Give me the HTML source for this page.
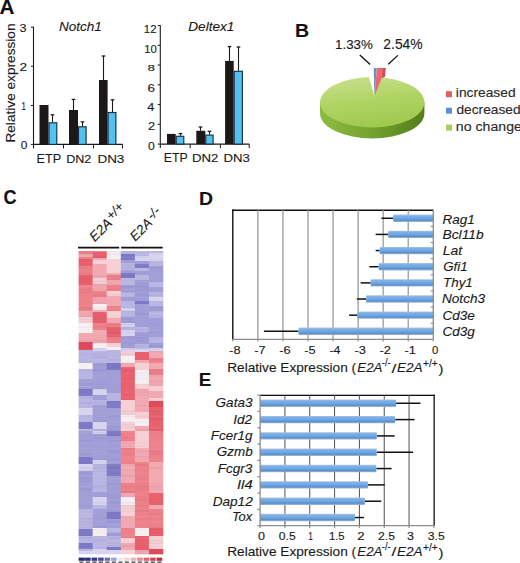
<!DOCTYPE html>
<html><head><meta charset="utf-8"><style>
html,body{margin:0;padding:0;background:#fff;width:520px;height:563px;overflow:hidden}
svg{display:block;font-family:"Liberation Sans", sans-serif}
text{stroke:#1a1a1a;stroke-width:0.12px}
</style></head><body>
<svg width="520" height="563" viewBox="0 0 520 563">
<rect width="520" height="563" fill="#fff"/>
<defs>
<linearGradient id="pietop" x1="0" y1="0" x2="0.3" y2="1">
<stop offset="0" stop-color="#cce293"/><stop offset="0.55" stop-color="#b0d464"/><stop offset="1" stop-color="#a0ca50"/></linearGradient>
<linearGradient id="pieside" x1="0" y1="0" x2="1" y2="0">
<stop offset="0" stop-color="#8cbc40"/><stop offset="0.45" stop-color="#76a630"/><stop offset="1" stop-color="#537e1a"/></linearGradient>
<linearGradient id="hbar" x1="0" y1="0" x2="0" y2="1">
<stop offset="0" stop-color="#b4c4da"/><stop offset="0.2" stop-color="#7cb0e8"/><stop offset="0.5" stop-color="#6ea8e4"/><stop offset="0.78" stop-color="#5a8fcc"/><stop offset="1" stop-color="#a8b8d0"/></linearGradient>
</defs>
<text transform="translate(-0.56,13.60) scale(1.118,1.129)" font-size="18.5" font-weight="bold" fill="#111">A</text>
<text transform="translate(15.2,142.6) rotate(-90) scale(1.035,1)" font-size="13.2" fill="#1a1a1a">Relative expression</text>
<text transform="translate(58.88,30.60) scale(1.043,1.011)" font-size="13" font-style="italic" fill="#1a1a1a">Notch1</text>
<text transform="translate(188.28,30.90) scale(1.045,1.000)" font-size="13" font-style="italic" fill="#1a1a1a">Deltex1</text>
<line x1="33.5" y1="26.7" x2="33.5" y2="148.4" stroke="#1a1a1a" stroke-width="1.1"/>
<line x1="30.9" y1="27.2" x2="33.5" y2="27.2" stroke="#1a1a1a" stroke-width="1"/>
<line x1="30.9" y1="66.2" x2="33.5" y2="66.2" stroke="#1a1a1a" stroke-width="1"/>
<line x1="30.9" y1="105.5" x2="33.5" y2="105.5" stroke="#1a1a1a" stroke-width="1"/>
<line x1="30.9" y1="144.4" x2="33.5" y2="144.4" stroke="#1a1a1a" stroke-width="1"/>
<line x1="33.5" y1="144.4" x2="122.7" y2="144.4" stroke="#1a1a1a" stroke-width="1.1"/>
<line x1="63.5" y1="144.4" x2="63.5" y2="148.4" stroke="#1a1a1a" stroke-width="1"/>
<line x1="93.5" y1="144.4" x2="93.5" y2="148.4" stroke="#1a1a1a" stroke-width="1"/>
<line x1="122.5" y1="144.4" x2="122.5" y2="148.4" stroke="#1a1a1a" stroke-width="1"/>
<rect x="39.5" y="105" width="9.0" height="39.400000000000006" fill="#1c1818"/>
<line x1="52.5" y1="114.8" x2="52.5" y2="122.3" stroke="#1a1a1a" stroke-width="1.1"/>
<line x1="50.7" y1="114.8" x2="54.3" y2="114.8" stroke="#1a1a1a" stroke-width="1.3"/>
<rect x="49.0" y="122.8" width="7.799999999999997" height="21.60000000000001" fill="#52c2f0" stroke="#173048" stroke-width="1.15"/>
<line x1="73.5" y1="99.4" x2="73.5" y2="110" stroke="#1a1a1a" stroke-width="1.1"/>
<line x1="71.7" y1="99.4" x2="75.3" y2="99.4" stroke="#1a1a1a" stroke-width="1.3"/>
<rect x="69" y="110" width="9" height="34.400000000000006" fill="#1c1818"/>
<line x1="82.5" y1="121.9" x2="82.5" y2="126.3" stroke="#1a1a1a" stroke-width="1.1"/>
<line x1="80.7" y1="121.9" x2="84.3" y2="121.9" stroke="#1a1a1a" stroke-width="1.3"/>
<rect x="78.5" y="126.8" width="7.599999999999994" height="17.60000000000001" fill="#52c2f0" stroke="#173048" stroke-width="1.15"/>
<line x1="103.5" y1="56" x2="103.5" y2="80" stroke="#1a1a1a" stroke-width="1.1"/>
<line x1="101.7" y1="56" x2="105.3" y2="56" stroke="#1a1a1a" stroke-width="1.3"/>
<rect x="99" y="80" width="8.599999999999994" height="64.4" fill="#1c1818"/>
<line x1="112.5" y1="99.8" x2="112.5" y2="112" stroke="#1a1a1a" stroke-width="1.1"/>
<line x1="110.7" y1="99.8" x2="114.3" y2="99.8" stroke="#1a1a1a" stroke-width="1.3"/>
<rect x="108.1" y="112.5" width="7.800000000000011" height="31.900000000000006" fill="#52c2f0" stroke="#173048" stroke-width="1.15"/>
<line x1="160.3" y1="25.2" x2="160.3" y2="148.1" stroke="#1a1a1a" stroke-width="1.1"/>
<line x1="157.70000000000002" y1="25.5" x2="160.3" y2="25.5" stroke="#1a1a1a" stroke-width="1"/>
<line x1="157.70000000000002" y1="45.3" x2="160.3" y2="45.3" stroke="#1a1a1a" stroke-width="1"/>
<line x1="157.70000000000002" y1="65.0" x2="160.3" y2="65.0" stroke="#1a1a1a" stroke-width="1"/>
<line x1="157.70000000000002" y1="84.8" x2="160.3" y2="84.8" stroke="#1a1a1a" stroke-width="1"/>
<line x1="157.70000000000002" y1="104.6" x2="160.3" y2="104.6" stroke="#1a1a1a" stroke-width="1"/>
<line x1="157.70000000000002" y1="124.3" x2="160.3" y2="124.3" stroke="#1a1a1a" stroke-width="1"/>
<line x1="157.70000000000002" y1="144.1" x2="160.3" y2="144.1" stroke="#1a1a1a" stroke-width="1"/>
<line x1="160.3" y1="144.1" x2="249.3" y2="144.1" stroke="#1a1a1a" stroke-width="1.1"/>
<line x1="190.2" y1="144.1" x2="190.2" y2="148.1" stroke="#1a1a1a" stroke-width="1"/>
<line x1="220.4" y1="144.1" x2="220.4" y2="148.1" stroke="#1a1a1a" stroke-width="1"/>
<line x1="249.2" y1="144.1" x2="249.2" y2="148.1" stroke="#1a1a1a" stroke-width="1"/>
<rect x="167" y="133.9" width="8.699999999999989" height="10.199999999999989" fill="#1c1818"/>
<line x1="180.5" y1="133.6" x2="180.5" y2="135.8" stroke="#1a1a1a" stroke-width="1.1"/>
<line x1="178.7" y1="133.6" x2="182.3" y2="133.6" stroke="#1a1a1a" stroke-width="1.3"/>
<rect x="176.2" y="136.3" width="7.600000000000023" height="7.799999999999983" fill="#52c2f0" stroke="#173048" stroke-width="1.15"/>
<line x1="200.5" y1="127" x2="200.5" y2="130.8" stroke="#1a1a1a" stroke-width="1.1"/>
<line x1="198.7" y1="127" x2="202.3" y2="127" stroke="#1a1a1a" stroke-width="1.3"/>
<rect x="196.3" y="130.8" width="9.0" height="13.299999999999983" fill="#1c1818"/>
<line x1="209.5" y1="131.3" x2="209.5" y2="134.6" stroke="#1a1a1a" stroke-width="1.1"/>
<line x1="207.7" y1="131.3" x2="211.3" y2="131.3" stroke="#1a1a1a" stroke-width="1.3"/>
<rect x="205.8" y="135.1" width="7.299999999999983" height="9.0" fill="#52c2f0" stroke="#173048" stroke-width="1.15"/>
<line x1="229.5" y1="46.6" x2="229.5" y2="60.9" stroke="#1a1a1a" stroke-width="1.1"/>
<line x1="227.7" y1="46.6" x2="231.3" y2="46.6" stroke="#1a1a1a" stroke-width="1.3"/>
<rect x="225.1" y="60.9" width="8.599999999999994" height="83.19999999999999" fill="#1c1818"/>
<line x1="238.5" y1="47" x2="238.5" y2="70.8" stroke="#1a1a1a" stroke-width="1.1"/>
<line x1="236.7" y1="47" x2="240.3" y2="47" stroke="#1a1a1a" stroke-width="1.3"/>
<rect x="234.2" y="71.3" width="8.200000000000017" height="72.8" fill="#52c2f0" stroke="#173048" stroke-width="1.15"/>
<text transform="translate(19.53,31.77) scale(1.143,0.925)" font-size="11" fill="#1a1a1a">3</text>
<text transform="translate(19.48,70.70) scale(1.240,0.968)" font-size="11" fill="#1a1a1a">2</text>
<text transform="translate(21.46,110.20) scale(0.716,0.987)" font-size="11" fill="#1a1a1a">1</text>
<text transform="translate(20.76,149.30) scale(1.086,0.942)" font-size="11" fill="#1a1a1a">0</text>
<text transform="translate(143.82,32.70) scale(1.036,1.032)" font-size="11" fill="#1a1a1a">12</text>
<text transform="translate(144.23,52.50) scale(1.027,1.032)" font-size="11" fill="#1a1a1a">10</text>
<text transform="translate(147.39,71.38) scale(1.219,0.900)" font-size="11" fill="#1a1a1a">8</text>
<text transform="translate(147.39,91.60) scale(1.219,0.929)" font-size="11" fill="#1a1a1a">6</text>
<text transform="translate(147.31,111.20) scale(1.164,0.960)" font-size="11" fill="#1a1a1a">4</text>
<text transform="translate(147.92,130.30) scale(1.160,0.994)" font-size="11" fill="#1a1a1a">2</text>
<text transform="translate(147.95,149.50) scale(1.105,1.019)" font-size="11" fill="#1a1a1a">0</text>
<text transform="translate(36.48,163.30) scale(1.015,0.953)" font-size="12.5" fill="#1a1a1a">ETP</text>
<text transform="translate(66.20,163.30) scale(1.004,0.926)" font-size="12.5" fill="#1a1a1a">DN2</text>
<text transform="translate(97.42,163.30) scale(1.077,0.926)" font-size="12.5" fill="#1a1a1a">DN3</text>
<text transform="translate(163.82,162.40) scale(0.985,0.965)" font-size="12.5" fill="#1a1a1a">ETP</text>
<text transform="translate(192.04,162.40) scale(1.055,0.937)" font-size="12.5" fill="#1a1a1a">DN2</text>
<text transform="translate(223.54,162.40) scale(1.055,0.937)" font-size="12.5" fill="#1a1a1a">DN3</text>
<text transform="translate(294.98,37.10) scale(1.058,1.027)" font-size="18.5" font-weight="bold" fill="#111">B</text>
<text transform="translate(335.01,49.40) scale(0.988,1.011)" font-size="13.5" fill="#1a1a1a">1.33%</text>
<text transform="translate(383.33,49.40) scale(1.027,1.042)" font-size="13.5" fill="#1a1a1a">2.54%</text>
<line x1="359.8" y1="55" x2="370.2" y2="64.5" stroke="#111" stroke-width="1.3"/>
<line x1="388.3" y1="64.3" x2="397.8" y2="55.4" stroke="#111" stroke-width="1.3"/>
<path d="M320.0,102.3 L320.0,113.3 A52.2,25.2 0 0 0 424.4,113.3 L424.4,102.3 Z" fill="url(#pieside)"/>
<ellipse cx="372.2" cy="102.3" rx="52.2" ry="25.2" fill="url(#pietop)"/>
<path d="M374.3,96.2 L368.8,76.3 L374.2,76.3 Z" fill="#fff"/>
<path d="M374.4,95.8 L373.7,68 L376.7,68 Z" fill="#6292d4"/>
<path d="M374.9,95.4 L376.7,68 L385.7,68 Z" fill="#ee6670"/>
<path d="M383.2,68 L385.7,68 L385.0,76.8 L381.9,78.2 Z" fill="#c94c56"/>
<rect x="446" y="91.2" width="6" height="6" fill="#e06060"/>
<rect x="446" y="107.7" width="6" height="6" fill="#5c90d6"/>
<rect x="446" y="124.6" width="6" height="6" fill="#a8cf5c"/>
<text transform="translate(455.87,97.40) scale(1.028,0.923)" font-size="13.4" fill="#2a2a2a">increased</text>
<text transform="translate(456.39,113.50) scale(1.027,0.923)" font-size="13.4" fill="#2a2a2a">decreased</text>
<text transform="translate(455.84,130.67) scale(1.056,0.992)" font-size="13.4" fill="#2a2a2a">no change</text>
<text transform="translate(3.46,204.14) scale(0.983,1.057)" font-size="18.5" font-weight="bold" fill="#111">C</text>
<line x1="78" y1="247.6" x2="119.2" y2="247.6" stroke="#111" stroke-width="1.6"/>
<line x1="121.2" y1="247.6" x2="162.7" y2="247.6" stroke="#111" stroke-width="1.6"/>
<text transform="translate(94.8,242.2) rotate(-45)" font-size="13.6" font-style="italic" fill="#1a1a1a">E2A<tspan font-size="13" dy="-3.6" dx="1.0">+/+</tspan></text>
<text transform="translate(135.2,241.7) rotate(-45)" font-size="13.4" font-style="italic" fill="#1a1a1a">E2A<tspan font-size="13" dy="-3.0" dx="1.5">-/-</tspan></text>
<rect x="78.60" y="251" width="14.37" height="3.3" fill="#ed8089"/>
<rect x="78.60" y="254" width="14.37" height="3.3" fill="#f2a8b0"/>
<rect x="78.60" y="257" width="14.37" height="2.3" fill="#ed8089"/>
<rect x="78.60" y="259" width="14.37" height="7.3" fill="#e8606c"/>
<rect x="78.60" y="266" width="14.37" height="9.3" fill="#ed8089"/>
<rect x="78.60" y="275" width="14.37" height="10.3" fill="#e8606c"/>
<rect x="78.60" y="285" width="14.37" height="19.3" fill="#ed8089"/>
<rect x="78.60" y="304" width="14.37" height="7.3" fill="#ed8089"/>
<rect x="78.60" y="311" width="14.37" height="6.3" fill="#f2a8b0"/>
<rect x="78.60" y="317" width="14.37" height="6.3" fill="#f6d0d4"/>
<rect x="78.60" y="323" width="14.37" height="10.3" fill="#f7f0f3"/>
<rect x="78.60" y="333" width="14.37" height="9.3" fill="#f2a8b0"/>
<rect x="78.60" y="342" width="14.37" height="8.3" fill="#e24a5a"/>
<rect x="78.60" y="350" width="14.37" height="13.3" fill="#b8b5e2"/>
<rect x="78.60" y="363" width="14.37" height="6.3" fill="#f7f0f3"/>
<rect x="78.60" y="369" width="14.37" height="10.3" fill="#b8b5e2"/>
<rect x="78.60" y="379" width="14.37" height="10.3" fill="#a09dd7"/>
<rect x="78.60" y="389" width="14.37" height="7.3" fill="#7d79c4"/>
<rect x="78.60" y="396" width="14.37" height="12.3" fill="#b8b5e2"/>
<rect x="78.60" y="408" width="14.37" height="7.3" fill="#d6d4ef"/>
<rect x="78.60" y="415" width="14.37" height="7.3" fill="#b8b5e2"/>
<rect x="78.60" y="422" width="14.37" height="7.3" fill="#7d79c4"/>
<rect x="78.60" y="429" width="14.37" height="2.3" fill="#b8b5e2"/>
<rect x="78.60" y="431" width="14.37" height="26.3" fill="#a09dd7"/>
<rect x="78.60" y="457" width="14.37" height="7.3" fill="#7d79c4"/>
<rect x="78.60" y="464" width="14.37" height="7.3" fill="#d6d4ef"/>
<rect x="78.60" y="471" width="14.37" height="38.3" fill="#a09dd7"/>
<rect x="78.60" y="509" width="14.37" height="20.3" fill="#b8b5e2"/>
<rect x="78.60" y="529" width="14.37" height="7.3" fill="#7d79c4"/>
<rect x="78.60" y="536" width="14.37" height="7.3" fill="#b8b5e2"/>
<rect x="78.60" y="543" width="14.37" height="6.3" fill="#7d79c4"/>
<rect x="78.60" y="549" width="14.37" height="2.3" fill="#b8b5e2"/>
<rect x="78.60" y="551" width="14.37" height="3.3" fill="#d6d4ef"/>
<rect x="92.67" y="251" width="14.37" height="1.3" fill="#ed8089"/>
<rect x="92.67" y="252" width="14.37" height="6.3" fill="#e8606c"/>
<rect x="92.67" y="258" width="14.37" height="2.3" fill="#f2a8b0"/>
<rect x="92.67" y="260" width="14.37" height="4.3" fill="#f6d0d4"/>
<rect x="92.67" y="264" width="14.37" height="14.3" fill="#f2a8b0"/>
<rect x="92.67" y="278" width="14.37" height="6.3" fill="#f6d0d4"/>
<rect x="92.67" y="284" width="14.37" height="7.3" fill="#f2a8b0"/>
<rect x="92.67" y="291" width="14.37" height="6.3" fill="#ed8089"/>
<rect x="92.67" y="297" width="14.37" height="7.3" fill="#f2a8b0"/>
<rect x="92.67" y="304" width="14.37" height="6.3" fill="#f7f0f3"/>
<rect x="92.67" y="310" width="14.37" height="2.3" fill="#f2a8b0"/>
<rect x="92.67" y="312" width="14.37" height="11.3" fill="#e8606c"/>
<rect x="92.67" y="323" width="14.37" height="7.3" fill="#ed8089"/>
<rect x="92.67" y="330" width="14.37" height="13.3" fill="#f2a8b0"/>
<rect x="92.67" y="343" width="14.37" height="5.3" fill="#f7f0f3"/>
<rect x="92.67" y="348" width="14.37" height="3.3" fill="#d6d4ef"/>
<rect x="92.67" y="351" width="14.37" height="12.3" fill="#b8b5e2"/>
<rect x="92.67" y="363" width="14.37" height="23.3" fill="#a09dd7"/>
<rect x="92.67" y="386" width="14.37" height="3.3" fill="#a09dd7"/>
<rect x="92.67" y="389" width="14.37" height="6.3" fill="#d6d4ef"/>
<rect x="92.67" y="395" width="14.37" height="5.3" fill="#a09dd7"/>
<rect x="92.67" y="400" width="14.37" height="5.3" fill="#b8b5e2"/>
<rect x="92.67" y="405" width="14.37" height="17.3" fill="#a09dd7"/>
<rect x="92.67" y="422" width="14.37" height="7.3" fill="#d6d4ef"/>
<rect x="92.67" y="429" width="14.37" height="2.3" fill="#b8b5e2"/>
<rect x="92.67" y="431" width="14.37" height="3.3" fill="#d6d4ef"/>
<rect x="92.67" y="434" width="14.37" height="26.3" fill="#a09dd7"/>
<rect x="92.67" y="460" width="14.37" height="4.3" fill="#d6d4ef"/>
<rect x="92.67" y="464" width="14.37" height="28.3" fill="#b8b5e2"/>
<rect x="92.67" y="492" width="14.37" height="5.3" fill="#a09dd7"/>
<rect x="92.67" y="497" width="14.37" height="8.3" fill="#d6d4ef"/>
<rect x="92.67" y="505" width="14.37" height="4.3" fill="#b8b5e2"/>
<rect x="92.67" y="509" width="14.37" height="19.3" fill="#a09dd7"/>
<rect x="92.67" y="528" width="14.37" height="8.3" fill="#f7f0f3"/>
<rect x="92.67" y="536" width="14.37" height="13.3" fill="#b8b5e2"/>
<rect x="92.67" y="549" width="14.37" height="5.3" fill="#d6d4ef"/>
<rect x="106.74" y="251" width="14.37" height="8.3" fill="#f7f0f3"/>
<rect x="106.74" y="259" width="14.37" height="14.3" fill="#f6d0d4"/>
<rect x="106.74" y="273" width="14.37" height="2.3" fill="#f2a8b0"/>
<rect x="106.74" y="275" width="14.37" height="5.3" fill="#ed8089"/>
<rect x="106.74" y="280" width="14.37" height="5.3" fill="#f2a8b0"/>
<rect x="106.74" y="285" width="14.37" height="6.3" fill="#ed8089"/>
<rect x="106.74" y="291" width="14.37" height="5.3" fill="#f6d0d4"/>
<rect x="106.74" y="296" width="14.37" height="10.3" fill="#f2a8b0"/>
<rect x="106.74" y="306" width="14.37" height="5.3" fill="#ed8089"/>
<rect x="106.74" y="311" width="14.37" height="7.3" fill="#f6d0d4"/>
<rect x="106.74" y="318" width="14.37" height="5.3" fill="#f2a8b0"/>
<rect x="106.74" y="323" width="14.37" height="4.3" fill="#ed8089"/>
<rect x="106.74" y="327" width="14.37" height="10.3" fill="#e8606c"/>
<rect x="106.74" y="337" width="14.37" height="6.3" fill="#ed8089"/>
<rect x="106.74" y="343" width="14.37" height="4.3" fill="#f6d0d4"/>
<rect x="106.74" y="347" width="14.37" height="3.3" fill="#f7f0f3"/>
<rect x="106.74" y="350" width="14.37" height="13.3" fill="#b8b5e2"/>
<rect x="106.74" y="363" width="14.37" height="7.3" fill="#7d79c4"/>
<rect x="106.74" y="370" width="14.37" height="23.3" fill="#a09dd7"/>
<rect x="106.74" y="393" width="14.37" height="8.3" fill="#b8b5e2"/>
<rect x="106.74" y="401" width="14.37" height="7.3" fill="#7d79c4"/>
<rect x="106.74" y="408" width="14.37" height="23.3" fill="#a09dd7"/>
<rect x="106.74" y="431" width="14.37" height="5.3" fill="#7d79c4"/>
<rect x="106.74" y="436" width="14.37" height="28.3" fill="#a09dd7"/>
<rect x="106.74" y="464" width="14.37" height="12.3" fill="#7d79c4"/>
<rect x="106.74" y="476" width="14.37" height="36.3" fill="#a09dd7"/>
<rect x="106.74" y="512" width="14.37" height="7.3" fill="#7d79c4"/>
<rect x="106.74" y="519" width="14.37" height="9.3" fill="#a09dd7"/>
<rect x="106.74" y="528" width="14.37" height="5.3" fill="#b8b5e2"/>
<rect x="106.74" y="533" width="14.37" height="3.3" fill="#a09dd7"/>
<rect x="106.74" y="536" width="14.37" height="11.3" fill="#b8b5e2"/>
<rect x="106.74" y="547" width="14.37" height="3.3" fill="#7d79c4"/>
<rect x="106.74" y="550" width="14.37" height="4.3" fill="#d6d4ef"/>
<rect x="120.81" y="251" width="14.37" height="3.3" fill="#b8b5e2"/>
<rect x="120.81" y="254" width="14.37" height="6.3" fill="#7d79c4"/>
<rect x="120.81" y="260" width="14.37" height="3.3" fill="#a09dd7"/>
<rect x="120.81" y="263" width="14.37" height="7.3" fill="#b8b5e2"/>
<rect x="120.81" y="270" width="14.37" height="3.3" fill="#a09dd7"/>
<rect x="120.81" y="273" width="14.37" height="5.3" fill="#7d79c4"/>
<rect x="120.81" y="278" width="14.37" height="7.3" fill="#b8b5e2"/>
<rect x="120.81" y="285" width="14.37" height="7.3" fill="#a09dd7"/>
<rect x="120.81" y="292" width="14.37" height="5.3" fill="#b8b5e2"/>
<rect x="120.81" y="297" width="14.37" height="4.3" fill="#a09dd7"/>
<rect x="120.81" y="301" width="14.37" height="7.3" fill="#b8b5e2"/>
<rect x="120.81" y="308" width="14.37" height="3.3" fill="#d6d4ef"/>
<rect x="120.81" y="311" width="14.37" height="6.3" fill="#b8b5e2"/>
<rect x="120.81" y="317" width="14.37" height="6.3" fill="#a09dd7"/>
<rect x="120.81" y="323" width="14.37" height="4.3" fill="#d6d4ef"/>
<rect x="120.81" y="327" width="14.37" height="3.3" fill="#b8b5e2"/>
<rect x="120.81" y="330" width="14.37" height="6.3" fill="#d6d4ef"/>
<rect x="120.81" y="336" width="14.37" height="12.3" fill="#a09dd7"/>
<rect x="120.81" y="348" width="14.37" height="3.3" fill="#d6d4ef"/>
<rect x="120.81" y="351" width="14.37" height="5.3" fill="#f6d0d4"/>
<rect x="120.81" y="356" width="14.37" height="7.3" fill="#f7f0f3"/>
<rect x="120.81" y="363" width="14.37" height="4.3" fill="#f2a8b0"/>
<rect x="120.81" y="367" width="14.37" height="33.3" fill="#e8606c"/>
<rect x="120.81" y="400" width="14.37" height="15.3" fill="#f6d0d4"/>
<rect x="120.81" y="415" width="14.37" height="7.3" fill="#f7f0f3"/>
<rect x="120.81" y="422" width="14.37" height="9.3" fill="#f6d0d4"/>
<rect x="120.81" y="431" width="14.37" height="10.3" fill="#ed8089"/>
<rect x="120.81" y="441" width="14.37" height="7.3" fill="#f2a8b0"/>
<rect x="120.81" y="448" width="14.37" height="16.3" fill="#ed8089"/>
<rect x="120.81" y="464" width="14.37" height="19.3" fill="#f2a8b0"/>
<rect x="120.81" y="483" width="14.37" height="10.3" fill="#ed8089"/>
<rect x="120.81" y="493" width="14.37" height="4.3" fill="#f2a8b0"/>
<rect x="120.81" y="497" width="14.37" height="8.3" fill="#f7f0f3"/>
<rect x="120.81" y="505" width="14.37" height="11.3" fill="#f6d0d4"/>
<rect x="120.81" y="516" width="14.37" height="12.3" fill="#f2a8b0"/>
<rect x="120.81" y="528" width="14.37" height="10.3" fill="#ed8089"/>
<rect x="120.81" y="538" width="14.37" height="5.3" fill="#f6d0d4"/>
<rect x="120.81" y="543" width="14.37" height="7.3" fill="#f2a8b0"/>
<rect x="120.81" y="550" width="14.37" height="4.3" fill="#f6d0d4"/>
<rect x="134.88" y="251" width="14.37" height="5.3" fill="#b8b5e2"/>
<rect x="134.88" y="256" width="14.37" height="5.3" fill="#d6d4ef"/>
<rect x="134.88" y="261" width="14.37" height="3.3" fill="#a09dd7"/>
<rect x="134.88" y="264" width="14.37" height="4.3" fill="#7d79c4"/>
<rect x="134.88" y="268" width="14.37" height="3.3" fill="#b8b5e2"/>
<rect x="134.88" y="271" width="14.37" height="4.3" fill="#a09dd7"/>
<rect x="134.88" y="275" width="14.37" height="5.3" fill="#b8b5e2"/>
<rect x="134.88" y="280" width="14.37" height="21.3" fill="#a09dd7"/>
<rect x="134.88" y="301" width="14.37" height="3.3" fill="#7d79c4"/>
<rect x="134.88" y="304" width="14.37" height="23.3" fill="#a09dd7"/>
<rect x="134.88" y="327" width="14.37" height="5.3" fill="#b8b5e2"/>
<rect x="134.88" y="332" width="14.37" height="12.3" fill="#a09dd7"/>
<rect x="134.88" y="344" width="14.37" height="5.3" fill="#b8b5e2"/>
<rect x="134.88" y="349" width="14.37" height="3.3" fill="#d6d4ef"/>
<rect x="134.88" y="352" width="14.37" height="8.3" fill="#e8606c"/>
<rect x="134.88" y="360" width="14.37" height="3.3" fill="#f2a8b0"/>
<rect x="134.88" y="363" width="14.37" height="7.3" fill="#f6d0d4"/>
<rect x="134.88" y="370" width="14.37" height="14.3" fill="#f7f0f3"/>
<rect x="134.88" y="384" width="14.37" height="5.3" fill="#f6d0d4"/>
<rect x="134.88" y="389" width="14.37" height="16.3" fill="#f2a8b0"/>
<rect x="134.88" y="405" width="14.37" height="7.3" fill="#f2a8b0"/>
<rect x="134.88" y="412" width="14.37" height="7.3" fill="#f6d0d4"/>
<rect x="134.88" y="419" width="14.37" height="7.3" fill="#f7f0f3"/>
<rect x="134.88" y="426" width="14.37" height="5.3" fill="#f2a8b0"/>
<rect x="134.88" y="431" width="14.37" height="17.3" fill="#f6d0d4"/>
<rect x="134.88" y="448" width="14.37" height="9.3" fill="#f2a8b0"/>
<rect x="134.88" y="457" width="14.37" height="5.3" fill="#f2a8b0"/>
<rect x="134.88" y="462" width="14.37" height="66.3" fill="#ed8089"/>
<rect x="134.88" y="528" width="14.37" height="8.3" fill="#f7f0f3"/>
<rect x="134.88" y="536" width="14.37" height="14.3" fill="#e8606c"/>
<rect x="134.88" y="550" width="14.37" height="4.3" fill="#f2a8b0"/>
<rect x="148.95" y="251" width="14.37" height="2.3" fill="#b8b5e2"/>
<rect x="148.95" y="253" width="14.37" height="8.3" fill="#d6d4ef"/>
<rect x="148.95" y="261" width="14.37" height="5.3" fill="#b8b5e2"/>
<rect x="148.95" y="266" width="14.37" height="16.3" fill="#a09dd7"/>
<rect x="148.95" y="282" width="14.37" height="5.3" fill="#b8b5e2"/>
<rect x="148.95" y="287" width="14.37" height="5.3" fill="#a09dd7"/>
<rect x="148.95" y="292" width="14.37" height="5.3" fill="#b8b5e2"/>
<rect x="148.95" y="297" width="14.37" height="4.3" fill="#d6d4ef"/>
<rect x="148.95" y="301" width="14.37" height="5.3" fill="#b8b5e2"/>
<rect x="148.95" y="306" width="14.37" height="5.3" fill="#a09dd7"/>
<rect x="148.95" y="311" width="14.37" height="7.3" fill="#b8b5e2"/>
<rect x="148.95" y="318" width="14.37" height="19.3" fill="#a09dd7"/>
<rect x="148.95" y="337" width="14.37" height="6.3" fill="#b8b5e2"/>
<rect x="148.95" y="343" width="14.37" height="5.3" fill="#a09dd7"/>
<rect x="148.95" y="348" width="14.37" height="3.3" fill="#d6d4ef"/>
<rect x="148.95" y="351" width="14.37" height="7.3" fill="#f2a8b0"/>
<rect x="148.95" y="358" width="14.37" height="5.3" fill="#ed8089"/>
<rect x="148.95" y="363" width="14.37" height="6.3" fill="#f2a8b0"/>
<rect x="148.95" y="369" width="14.37" height="6.3" fill="#ed8089"/>
<rect x="148.95" y="375" width="14.37" height="11.3" fill="#f2a8b0"/>
<rect x="148.95" y="386" width="14.37" height="5.3" fill="#f6d0d4"/>
<rect x="148.95" y="391" width="14.37" height="7.3" fill="#f2a8b0"/>
<rect x="148.95" y="398" width="14.37" height="3.3" fill="#f6d0d4"/>
<rect x="148.95" y="401" width="14.37" height="6.3" fill="#e24a5a"/>
<rect x="148.95" y="407" width="14.37" height="24.3" fill="#e8606c"/>
<rect x="148.95" y="431" width="14.37" height="31.3" fill="#ed8089"/>
<rect x="148.95" y="462" width="14.37" height="31.3" fill="#f2a8b0"/>
<rect x="148.95" y="493" width="14.37" height="12.3" fill="#e8606c"/>
<rect x="148.95" y="505" width="14.37" height="4.3" fill="#f2a8b0"/>
<rect x="148.95" y="509" width="14.37" height="19.3" fill="#ed8089"/>
<rect x="148.95" y="528" width="14.37" height="8.3" fill="#e8606c"/>
<rect x="148.95" y="536" width="14.37" height="13.3" fill="#f6d0d4"/>
<rect x="148.95" y="549" width="14.37" height="5.3" fill="#e24a5a"/>
<rect x="78.60" y="251.00" width="14.07" height="1.4" fill="#303060" fill-opacity="0.025"/>
<rect x="78.60" y="253.70" width="14.07" height="1.4" fill="#303060" fill-opacity="0.049"/>
<rect x="78.60" y="259.10" width="14.07" height="1.4" fill="#303060" fill-opacity="0.060"/>
<rect x="78.60" y="267.20" width="14.07" height="1.4" fill="#303060" fill-opacity="0.062"/>
<rect x="78.60" y="272.60" width="14.07" height="1.4" fill="#303060" fill-opacity="0.065"/>
<rect x="78.60" y="278.00" width="14.07" height="1.4" fill="#303060" fill-opacity="0.060"/>
<rect x="78.60" y="280.70" width="14.07" height="1.4" fill="#303060" fill-opacity="0.057"/>
<rect x="78.60" y="286.10" width="14.07" height="1.4" fill="#ffffff" fill-opacity="0.046"/>
<rect x="78.60" y="288.80" width="14.07" height="1.4" fill="#303060" fill-opacity="0.053"/>
<rect x="78.60" y="291.50" width="14.07" height="1.4" fill="#303060" fill-opacity="0.039"/>
<rect x="78.60" y="296.90" width="14.07" height="1.4" fill="#ffffff" fill-opacity="0.063"/>
<rect x="78.60" y="305.00" width="14.07" height="1.4" fill="#ffffff" fill-opacity="0.067"/>
<rect x="78.60" y="307.70" width="14.07" height="1.4" fill="#303060" fill-opacity="0.063"/>
<rect x="78.60" y="310.40" width="14.07" height="1.4" fill="#ffffff" fill-opacity="0.050"/>
<rect x="78.60" y="313.10" width="14.07" height="1.4" fill="#303060" fill-opacity="0.029"/>
<rect x="78.60" y="315.80" width="14.07" height="1.4" fill="#303060" fill-opacity="0.050"/>
<rect x="78.60" y="318.50" width="14.07" height="1.4" fill="#303060" fill-opacity="0.054"/>
<rect x="78.60" y="321.20" width="14.07" height="1.4" fill="#303060" fill-opacity="0.027"/>
<rect x="78.60" y="323.90" width="14.07" height="1.4" fill="#ffffff" fill-opacity="0.044"/>
<rect x="78.60" y="326.60" width="14.07" height="1.4" fill="#303060" fill-opacity="0.045"/>
<rect x="78.60" y="340.10" width="14.07" height="1.4" fill="#303060" fill-opacity="0.061"/>
<rect x="78.60" y="342.80" width="14.07" height="1.4" fill="#303060" fill-opacity="0.062"/>
<rect x="78.60" y="345.50" width="14.07" height="1.4" fill="#303060" fill-opacity="0.041"/>
<rect x="78.60" y="348.20" width="14.07" height="1.4" fill="#ffffff" fill-opacity="0.025"/>
<rect x="78.60" y="353.60" width="14.07" height="1.4" fill="#303060" fill-opacity="0.026"/>
<rect x="78.60" y="361.70" width="14.07" height="1.4" fill="#303060" fill-opacity="0.028"/>
<rect x="78.60" y="364.40" width="14.07" height="1.4" fill="#ffffff" fill-opacity="0.041"/>
<rect x="78.60" y="367.10" width="14.07" height="1.4" fill="#ffffff" fill-opacity="0.028"/>
<rect x="78.60" y="369.80" width="14.07" height="1.4" fill="#303060" fill-opacity="0.036"/>
<rect x="78.60" y="377.90" width="14.07" height="1.4" fill="#ffffff" fill-opacity="0.053"/>
<rect x="78.60" y="380.60" width="14.07" height="1.4" fill="#ffffff" fill-opacity="0.032"/>
<rect x="78.60" y="383.30" width="14.07" height="1.4" fill="#303060" fill-opacity="0.030"/>
<rect x="78.60" y="386.00" width="14.07" height="1.4" fill="#ffffff" fill-opacity="0.067"/>
<rect x="78.60" y="388.70" width="14.07" height="1.4" fill="#303060" fill-opacity="0.053"/>
<rect x="78.60" y="394.10" width="14.07" height="1.4" fill="#ffffff" fill-opacity="0.036"/>
<rect x="78.60" y="396.80" width="14.07" height="1.4" fill="#303060" fill-opacity="0.049"/>
<rect x="78.60" y="402.20" width="14.07" height="1.4" fill="#303060" fill-opacity="0.065"/>
<rect x="78.60" y="407.60" width="14.07" height="1.4" fill="#ffffff" fill-opacity="0.037"/>
<rect x="78.60" y="413.00" width="14.07" height="1.4" fill="#ffffff" fill-opacity="0.053"/>
<rect x="78.60" y="415.70" width="14.07" height="1.4" fill="#303060" fill-opacity="0.026"/>
<rect x="78.60" y="418.40" width="14.07" height="1.4" fill="#ffffff" fill-opacity="0.027"/>
<rect x="78.60" y="429.20" width="14.07" height="1.4" fill="#ffffff" fill-opacity="0.048"/>
<rect x="78.60" y="431.90" width="14.07" height="1.4" fill="#ffffff" fill-opacity="0.062"/>
<rect x="78.60" y="440.00" width="14.07" height="1.4" fill="#303060" fill-opacity="0.062"/>
<rect x="78.60" y="442.70" width="14.07" height="1.4" fill="#ffffff" fill-opacity="0.028"/>
<rect x="78.60" y="448.10" width="14.07" height="1.4" fill="#ffffff" fill-opacity="0.069"/>
<rect x="78.60" y="450.80" width="14.07" height="1.4" fill="#ffffff" fill-opacity="0.045"/>
<rect x="78.60" y="453.50" width="14.07" height="1.4" fill="#303060" fill-opacity="0.030"/>
<rect x="78.60" y="461.60" width="14.07" height="1.4" fill="#303060" fill-opacity="0.067"/>
<rect x="78.60" y="467.00" width="14.07" height="1.4" fill="#303060" fill-opacity="0.046"/>
<rect x="78.60" y="469.70" width="14.07" height="1.4" fill="#303060" fill-opacity="0.054"/>
<rect x="78.60" y="472.40" width="14.07" height="1.4" fill="#303060" fill-opacity="0.062"/>
<rect x="78.60" y="475.10" width="14.07" height="1.4" fill="#ffffff" fill-opacity="0.038"/>
<rect x="78.60" y="477.80" width="14.07" height="1.4" fill="#303060" fill-opacity="0.052"/>
<rect x="78.60" y="480.50" width="14.07" height="1.4" fill="#303060" fill-opacity="0.035"/>
<rect x="78.60" y="485.90" width="14.07" height="1.4" fill="#ffffff" fill-opacity="0.052"/>
<rect x="78.60" y="488.60" width="14.07" height="1.4" fill="#303060" fill-opacity="0.059"/>
<rect x="78.60" y="496.70" width="14.07" height="1.4" fill="#ffffff" fill-opacity="0.054"/>
<rect x="78.60" y="499.40" width="14.07" height="1.4" fill="#ffffff" fill-opacity="0.045"/>
<rect x="78.60" y="502.10" width="14.07" height="1.4" fill="#ffffff" fill-opacity="0.051"/>
<rect x="78.60" y="504.80" width="14.07" height="1.4" fill="#303060" fill-opacity="0.031"/>
<rect x="78.60" y="512.90" width="14.07" height="1.4" fill="#ffffff" fill-opacity="0.054"/>
<rect x="78.60" y="515.60" width="14.07" height="1.4" fill="#ffffff" fill-opacity="0.064"/>
<rect x="78.60" y="518.30" width="14.07" height="1.4" fill="#303060" fill-opacity="0.049"/>
<rect x="78.60" y="521.00" width="14.07" height="1.4" fill="#303060" fill-opacity="0.045"/>
<rect x="78.60" y="523.70" width="14.07" height="1.4" fill="#303060" fill-opacity="0.038"/>
<rect x="78.60" y="526.40" width="14.07" height="1.4" fill="#303060" fill-opacity="0.037"/>
<rect x="78.60" y="534.50" width="14.07" height="1.4" fill="#303060" fill-opacity="0.033"/>
<rect x="78.60" y="537.20" width="14.07" height="1.4" fill="#303060" fill-opacity="0.069"/>
<rect x="78.60" y="548.00" width="14.07" height="1.4" fill="#ffffff" fill-opacity="0.063"/>
<rect x="78.60" y="550.70" width="14.07" height="1.4" fill="#ffffff" fill-opacity="0.027"/>
<rect x="92.67" y="253.70" width="14.07" height="1.4" fill="#ffffff" fill-opacity="0.025"/>
<rect x="92.67" y="256.40" width="14.07" height="1.4" fill="#303060" fill-opacity="0.062"/>
<rect x="92.67" y="259.10" width="14.07" height="1.4" fill="#ffffff" fill-opacity="0.056"/>
<rect x="92.67" y="261.80" width="14.07" height="1.4" fill="#ffffff" fill-opacity="0.039"/>
<rect x="92.67" y="264.50" width="14.07" height="1.4" fill="#ffffff" fill-opacity="0.052"/>
<rect x="92.67" y="267.20" width="14.07" height="1.4" fill="#ffffff" fill-opacity="0.042"/>
<rect x="92.67" y="275.30" width="14.07" height="1.4" fill="#303060" fill-opacity="0.056"/>
<rect x="92.67" y="280.70" width="14.07" height="1.4" fill="#303060" fill-opacity="0.061"/>
<rect x="92.67" y="283.40" width="14.07" height="1.4" fill="#303060" fill-opacity="0.061"/>
<rect x="92.67" y="286.10" width="14.07" height="1.4" fill="#303060" fill-opacity="0.041"/>
<rect x="92.67" y="288.80" width="14.07" height="1.4" fill="#303060" fill-opacity="0.047"/>
<rect x="92.67" y="294.20" width="14.07" height="1.4" fill="#303060" fill-opacity="0.063"/>
<rect x="92.67" y="296.90" width="14.07" height="1.4" fill="#303060" fill-opacity="0.070"/>
<rect x="92.67" y="299.60" width="14.07" height="1.4" fill="#303060" fill-opacity="0.049"/>
<rect x="92.67" y="302.30" width="14.07" height="1.4" fill="#303060" fill-opacity="0.056"/>
<rect x="92.67" y="307.70" width="14.07" height="1.4" fill="#303060" fill-opacity="0.066"/>
<rect x="92.67" y="310.40" width="14.07" height="1.4" fill="#ffffff" fill-opacity="0.052"/>
<rect x="92.67" y="315.80" width="14.07" height="1.4" fill="#303060" fill-opacity="0.049"/>
<rect x="92.67" y="318.50" width="14.07" height="1.4" fill="#303060" fill-opacity="0.035"/>
<rect x="92.67" y="326.60" width="14.07" height="1.4" fill="#303060" fill-opacity="0.053"/>
<rect x="92.67" y="329.30" width="14.07" height="1.4" fill="#ffffff" fill-opacity="0.049"/>
<rect x="92.67" y="332.00" width="14.07" height="1.4" fill="#ffffff" fill-opacity="0.069"/>
<rect x="92.67" y="340.10" width="14.07" height="1.4" fill="#303060" fill-opacity="0.058"/>
<rect x="92.67" y="342.80" width="14.07" height="1.4" fill="#303060" fill-opacity="0.056"/>
<rect x="92.67" y="348.20" width="14.07" height="1.4" fill="#303060" fill-opacity="0.033"/>
<rect x="92.67" y="350.90" width="14.07" height="1.4" fill="#ffffff" fill-opacity="0.046"/>
<rect x="92.67" y="353.60" width="14.07" height="1.4" fill="#303060" fill-opacity="0.047"/>
<rect x="92.67" y="356.30" width="14.07" height="1.4" fill="#303060" fill-opacity="0.067"/>
<rect x="92.67" y="359.00" width="14.07" height="1.4" fill="#ffffff" fill-opacity="0.063"/>
<rect x="92.67" y="364.40" width="14.07" height="1.4" fill="#303060" fill-opacity="0.049"/>
<rect x="92.67" y="369.80" width="14.07" height="1.4" fill="#303060" fill-opacity="0.066"/>
<rect x="92.67" y="375.20" width="14.07" height="1.4" fill="#ffffff" fill-opacity="0.067"/>
<rect x="92.67" y="377.90" width="14.07" height="1.4" fill="#ffffff" fill-opacity="0.051"/>
<rect x="92.67" y="380.60" width="14.07" height="1.4" fill="#ffffff" fill-opacity="0.027"/>
<rect x="92.67" y="383.30" width="14.07" height="1.4" fill="#303060" fill-opacity="0.033"/>
<rect x="92.67" y="388.70" width="14.07" height="1.4" fill="#303060" fill-opacity="0.047"/>
<rect x="92.67" y="391.40" width="14.07" height="1.4" fill="#ffffff" fill-opacity="0.038"/>
<rect x="92.67" y="396.80" width="14.07" height="1.4" fill="#ffffff" fill-opacity="0.039"/>
<rect x="92.67" y="402.20" width="14.07" height="1.4" fill="#303060" fill-opacity="0.039"/>
<rect x="92.67" y="404.90" width="14.07" height="1.4" fill="#ffffff" fill-opacity="0.044"/>
<rect x="92.67" y="407.60" width="14.07" height="1.4" fill="#ffffff" fill-opacity="0.068"/>
<rect x="92.67" y="410.30" width="14.07" height="1.4" fill="#ffffff" fill-opacity="0.049"/>
<rect x="92.67" y="413.00" width="14.07" height="1.4" fill="#ffffff" fill-opacity="0.043"/>
<rect x="92.67" y="415.70" width="14.07" height="1.4" fill="#ffffff" fill-opacity="0.045"/>
<rect x="92.67" y="418.40" width="14.07" height="1.4" fill="#ffffff" fill-opacity="0.034"/>
<rect x="92.67" y="421.10" width="14.07" height="1.4" fill="#303060" fill-opacity="0.038"/>
<rect x="92.67" y="429.20" width="14.07" height="1.4" fill="#303060" fill-opacity="0.066"/>
<rect x="92.67" y="431.90" width="14.07" height="1.4" fill="#303060" fill-opacity="0.066"/>
<rect x="92.67" y="434.60" width="14.07" height="1.4" fill="#303060" fill-opacity="0.031"/>
<rect x="92.67" y="437.30" width="14.07" height="1.4" fill="#303060" fill-opacity="0.034"/>
<rect x="92.67" y="440.00" width="14.07" height="1.4" fill="#ffffff" fill-opacity="0.027"/>
<rect x="92.67" y="442.70" width="14.07" height="1.4" fill="#ffffff" fill-opacity="0.064"/>
<rect x="92.67" y="448.10" width="14.07" height="1.4" fill="#ffffff" fill-opacity="0.061"/>
<rect x="92.67" y="450.80" width="14.07" height="1.4" fill="#ffffff" fill-opacity="0.068"/>
<rect x="92.67" y="453.50" width="14.07" height="1.4" fill="#ffffff" fill-opacity="0.064"/>
<rect x="92.67" y="458.90" width="14.07" height="1.4" fill="#303060" fill-opacity="0.039"/>
<rect x="92.67" y="461.60" width="14.07" height="1.4" fill="#303060" fill-opacity="0.038"/>
<rect x="92.67" y="464.30" width="14.07" height="1.4" fill="#303060" fill-opacity="0.042"/>
<rect x="92.67" y="467.00" width="14.07" height="1.4" fill="#303060" fill-opacity="0.041"/>
<rect x="92.67" y="472.40" width="14.07" height="1.4" fill="#ffffff" fill-opacity="0.056"/>
<rect x="92.67" y="475.10" width="14.07" height="1.4" fill="#ffffff" fill-opacity="0.048"/>
<rect x="92.67" y="483.20" width="14.07" height="1.4" fill="#ffffff" fill-opacity="0.042"/>
<rect x="92.67" y="485.90" width="14.07" height="1.4" fill="#303060" fill-opacity="0.058"/>
<rect x="92.67" y="491.30" width="14.07" height="1.4" fill="#ffffff" fill-opacity="0.057"/>
<rect x="92.67" y="494.00" width="14.07" height="1.4" fill="#ffffff" fill-opacity="0.040"/>
<rect x="92.67" y="496.70" width="14.07" height="1.4" fill="#ffffff" fill-opacity="0.035"/>
<rect x="92.67" y="502.10" width="14.07" height="1.4" fill="#303060" fill-opacity="0.045"/>
<rect x="92.67" y="504.80" width="14.07" height="1.4" fill="#ffffff" fill-opacity="0.040"/>
<rect x="92.67" y="510.20" width="14.07" height="1.4" fill="#ffffff" fill-opacity="0.042"/>
<rect x="92.67" y="512.90" width="14.07" height="1.4" fill="#ffffff" fill-opacity="0.066"/>
<rect x="92.67" y="521.00" width="14.07" height="1.4" fill="#ffffff" fill-opacity="0.063"/>
<rect x="92.67" y="523.70" width="14.07" height="1.4" fill="#ffffff" fill-opacity="0.031"/>
<rect x="92.67" y="526.40" width="14.07" height="1.4" fill="#303060" fill-opacity="0.046"/>
<rect x="92.67" y="529.10" width="14.07" height="1.4" fill="#303060" fill-opacity="0.052"/>
<rect x="92.67" y="531.80" width="14.07" height="1.4" fill="#303060" fill-opacity="0.049"/>
<rect x="92.67" y="534.50" width="14.07" height="1.4" fill="#ffffff" fill-opacity="0.057"/>
<rect x="92.67" y="537.20" width="14.07" height="1.4" fill="#ffffff" fill-opacity="0.043"/>
<rect x="92.67" y="539.90" width="14.07" height="1.4" fill="#303060" fill-opacity="0.050"/>
<rect x="92.67" y="542.60" width="14.07" height="1.4" fill="#ffffff" fill-opacity="0.046"/>
<rect x="92.67" y="545.30" width="14.07" height="1.4" fill="#ffffff" fill-opacity="0.067"/>
<rect x="106.74" y="251.00" width="14.07" height="1.4" fill="#303060" fill-opacity="0.052"/>
<rect x="106.74" y="253.70" width="14.07" height="1.4" fill="#303060" fill-opacity="0.068"/>
<rect x="106.74" y="256.40" width="14.07" height="1.4" fill="#ffffff" fill-opacity="0.066"/>
<rect x="106.74" y="264.50" width="14.07" height="1.4" fill="#ffffff" fill-opacity="0.061"/>
<rect x="106.74" y="269.90" width="14.07" height="1.4" fill="#ffffff" fill-opacity="0.052"/>
<rect x="106.74" y="272.60" width="14.07" height="1.4" fill="#ffffff" fill-opacity="0.046"/>
<rect x="106.74" y="275.30" width="14.07" height="1.4" fill="#303060" fill-opacity="0.040"/>
<rect x="106.74" y="278.00" width="14.07" height="1.4" fill="#303060" fill-opacity="0.035"/>
<rect x="106.74" y="280.70" width="14.07" height="1.4" fill="#303060" fill-opacity="0.029"/>
<rect x="106.74" y="283.40" width="14.07" height="1.4" fill="#303060" fill-opacity="0.036"/>
<rect x="106.74" y="288.80" width="14.07" height="1.4" fill="#303060" fill-opacity="0.034"/>
<rect x="106.74" y="294.20" width="14.07" height="1.4" fill="#303060" fill-opacity="0.052"/>
<rect x="106.74" y="296.90" width="14.07" height="1.4" fill="#ffffff" fill-opacity="0.057"/>
<rect x="106.74" y="307.70" width="14.07" height="1.4" fill="#ffffff" fill-opacity="0.057"/>
<rect x="106.74" y="313.10" width="14.07" height="1.4" fill="#ffffff" fill-opacity="0.058"/>
<rect x="106.74" y="323.90" width="14.07" height="1.4" fill="#303060" fill-opacity="0.067"/>
<rect x="106.74" y="329.30" width="14.07" height="1.4" fill="#303060" fill-opacity="0.044"/>
<rect x="106.74" y="332.00" width="14.07" height="1.4" fill="#303060" fill-opacity="0.069"/>
<rect x="106.74" y="334.70" width="14.07" height="1.4" fill="#ffffff" fill-opacity="0.042"/>
<rect x="106.74" y="337.40" width="14.07" height="1.4" fill="#303060" fill-opacity="0.046"/>
<rect x="106.74" y="342.80" width="14.07" height="1.4" fill="#ffffff" fill-opacity="0.032"/>
<rect x="106.74" y="356.30" width="14.07" height="1.4" fill="#ffffff" fill-opacity="0.040"/>
<rect x="106.74" y="359.00" width="14.07" height="1.4" fill="#303060" fill-opacity="0.055"/>
<rect x="106.74" y="364.40" width="14.07" height="1.4" fill="#303060" fill-opacity="0.035"/>
<rect x="106.74" y="367.10" width="14.07" height="1.4" fill="#303060" fill-opacity="0.031"/>
<rect x="106.74" y="369.80" width="14.07" height="1.4" fill="#ffffff" fill-opacity="0.038"/>
<rect x="106.74" y="377.90" width="14.07" height="1.4" fill="#ffffff" fill-opacity="0.036"/>
<rect x="106.74" y="380.60" width="14.07" height="1.4" fill="#ffffff" fill-opacity="0.058"/>
<rect x="106.74" y="394.10" width="14.07" height="1.4" fill="#ffffff" fill-opacity="0.027"/>
<rect x="106.74" y="404.90" width="14.07" height="1.4" fill="#ffffff" fill-opacity="0.062"/>
<rect x="106.74" y="407.60" width="14.07" height="1.4" fill="#ffffff" fill-opacity="0.028"/>
<rect x="106.74" y="410.30" width="14.07" height="1.4" fill="#ffffff" fill-opacity="0.053"/>
<rect x="106.74" y="413.00" width="14.07" height="1.4" fill="#ffffff" fill-opacity="0.062"/>
<rect x="106.74" y="415.70" width="14.07" height="1.4" fill="#303060" fill-opacity="0.034"/>
<rect x="106.74" y="421.10" width="14.07" height="1.4" fill="#ffffff" fill-opacity="0.062"/>
<rect x="106.74" y="423.80" width="14.07" height="1.4" fill="#ffffff" fill-opacity="0.048"/>
<rect x="106.74" y="426.50" width="14.07" height="1.4" fill="#303060" fill-opacity="0.051"/>
<rect x="106.74" y="429.20" width="14.07" height="1.4" fill="#303060" fill-opacity="0.053"/>
<rect x="106.74" y="434.60" width="14.07" height="1.4" fill="#303060" fill-opacity="0.060"/>
<rect x="106.74" y="437.30" width="14.07" height="1.4" fill="#303060" fill-opacity="0.036"/>
<rect x="106.74" y="440.00" width="14.07" height="1.4" fill="#303060" fill-opacity="0.060"/>
<rect x="106.74" y="445.40" width="14.07" height="1.4" fill="#ffffff" fill-opacity="0.040"/>
<rect x="106.74" y="448.10" width="14.07" height="1.4" fill="#ffffff" fill-opacity="0.056"/>
<rect x="106.74" y="450.80" width="14.07" height="1.4" fill="#303060" fill-opacity="0.048"/>
<rect x="106.74" y="453.50" width="14.07" height="1.4" fill="#ffffff" fill-opacity="0.030"/>
<rect x="106.74" y="458.90" width="14.07" height="1.4" fill="#303060" fill-opacity="0.050"/>
<rect x="106.74" y="461.60" width="14.07" height="1.4" fill="#ffffff" fill-opacity="0.054"/>
<rect x="106.74" y="464.30" width="14.07" height="1.4" fill="#ffffff" fill-opacity="0.065"/>
<rect x="106.74" y="467.00" width="14.07" height="1.4" fill="#303060" fill-opacity="0.039"/>
<rect x="106.74" y="469.70" width="14.07" height="1.4" fill="#ffffff" fill-opacity="0.063"/>
<rect x="106.74" y="477.80" width="14.07" height="1.4" fill="#ffffff" fill-opacity="0.069"/>
<rect x="106.74" y="480.50" width="14.07" height="1.4" fill="#ffffff" fill-opacity="0.047"/>
<rect x="106.74" y="483.20" width="14.07" height="1.4" fill="#303060" fill-opacity="0.047"/>
<rect x="106.74" y="494.00" width="14.07" height="1.4" fill="#303060" fill-opacity="0.043"/>
<rect x="106.74" y="496.70" width="14.07" height="1.4" fill="#303060" fill-opacity="0.025"/>
<rect x="106.74" y="499.40" width="14.07" height="1.4" fill="#ffffff" fill-opacity="0.031"/>
<rect x="106.74" y="502.10" width="14.07" height="1.4" fill="#303060" fill-opacity="0.067"/>
<rect x="106.74" y="510.20" width="14.07" height="1.4" fill="#303060" fill-opacity="0.067"/>
<rect x="106.74" y="521.00" width="14.07" height="1.4" fill="#303060" fill-opacity="0.061"/>
<rect x="106.74" y="523.70" width="14.07" height="1.4" fill="#ffffff" fill-opacity="0.068"/>
<rect x="106.74" y="526.40" width="14.07" height="1.4" fill="#ffffff" fill-opacity="0.040"/>
<rect x="106.74" y="529.10" width="14.07" height="1.4" fill="#ffffff" fill-opacity="0.066"/>
<rect x="106.74" y="531.80" width="14.07" height="1.4" fill="#303060" fill-opacity="0.055"/>
<rect x="106.74" y="534.50" width="14.07" height="1.4" fill="#303060" fill-opacity="0.033"/>
<rect x="106.74" y="537.20" width="14.07" height="1.4" fill="#303060" fill-opacity="0.064"/>
<rect x="106.74" y="539.90" width="14.07" height="1.4" fill="#ffffff" fill-opacity="0.039"/>
<rect x="106.74" y="542.60" width="14.07" height="1.4" fill="#303060" fill-opacity="0.032"/>
<rect x="106.74" y="545.30" width="14.07" height="1.4" fill="#303060" fill-opacity="0.052"/>
<rect x="106.74" y="550.70" width="14.07" height="1.4" fill="#ffffff" fill-opacity="0.058"/>
<rect x="106.74" y="553.40" width="14.07" height="1.4" fill="#ffffff" fill-opacity="0.045"/>
<rect x="120.81" y="251.00" width="14.07" height="1.4" fill="#303060" fill-opacity="0.034"/>
<rect x="120.81" y="253.70" width="14.07" height="1.4" fill="#303060" fill-opacity="0.049"/>
<rect x="120.81" y="256.40" width="14.07" height="1.4" fill="#ffffff" fill-opacity="0.059"/>
<rect x="120.81" y="261.80" width="14.07" height="1.4" fill="#ffffff" fill-opacity="0.028"/>
<rect x="120.81" y="264.50" width="14.07" height="1.4" fill="#303060" fill-opacity="0.057"/>
<rect x="120.81" y="267.20" width="14.07" height="1.4" fill="#303060" fill-opacity="0.062"/>
<rect x="120.81" y="269.90" width="14.07" height="1.4" fill="#ffffff" fill-opacity="0.026"/>
<rect x="120.81" y="275.30" width="14.07" height="1.4" fill="#303060" fill-opacity="0.060"/>
<rect x="120.81" y="278.00" width="14.07" height="1.4" fill="#ffffff" fill-opacity="0.061"/>
<rect x="120.81" y="283.40" width="14.07" height="1.4" fill="#ffffff" fill-opacity="0.042"/>
<rect x="120.81" y="286.10" width="14.07" height="1.4" fill="#303060" fill-opacity="0.058"/>
<rect x="120.81" y="288.80" width="14.07" height="1.4" fill="#ffffff" fill-opacity="0.050"/>
<rect x="120.81" y="291.50" width="14.07" height="1.4" fill="#303060" fill-opacity="0.061"/>
<rect x="120.81" y="294.20" width="14.07" height="1.4" fill="#ffffff" fill-opacity="0.051"/>
<rect x="120.81" y="305.00" width="14.07" height="1.4" fill="#ffffff" fill-opacity="0.060"/>
<rect x="120.81" y="307.70" width="14.07" height="1.4" fill="#303060" fill-opacity="0.032"/>
<rect x="120.81" y="310.40" width="14.07" height="1.4" fill="#303060" fill-opacity="0.052"/>
<rect x="120.81" y="315.80" width="14.07" height="1.4" fill="#303060" fill-opacity="0.037"/>
<rect x="120.81" y="318.50" width="14.07" height="1.4" fill="#303060" fill-opacity="0.055"/>
<rect x="120.81" y="321.20" width="14.07" height="1.4" fill="#303060" fill-opacity="0.047"/>
<rect x="120.81" y="323.90" width="14.07" height="1.4" fill="#303060" fill-opacity="0.063"/>
<rect x="120.81" y="326.60" width="14.07" height="1.4" fill="#303060" fill-opacity="0.042"/>
<rect x="120.81" y="329.30" width="14.07" height="1.4" fill="#303060" fill-opacity="0.026"/>
<rect x="120.81" y="332.00" width="14.07" height="1.4" fill="#303060" fill-opacity="0.027"/>
<rect x="120.81" y="334.70" width="14.07" height="1.4" fill="#ffffff" fill-opacity="0.036"/>
<rect x="120.81" y="337.40" width="14.07" height="1.4" fill="#303060" fill-opacity="0.029"/>
<rect x="120.81" y="342.80" width="14.07" height="1.4" fill="#303060" fill-opacity="0.045"/>
<rect x="120.81" y="348.20" width="14.07" height="1.4" fill="#303060" fill-opacity="0.067"/>
<rect x="120.81" y="350.90" width="14.07" height="1.4" fill="#303060" fill-opacity="0.035"/>
<rect x="120.81" y="353.60" width="14.07" height="1.4" fill="#303060" fill-opacity="0.068"/>
<rect x="120.81" y="356.30" width="14.07" height="1.4" fill="#ffffff" fill-opacity="0.033"/>
<rect x="120.81" y="361.70" width="14.07" height="1.4" fill="#303060" fill-opacity="0.043"/>
<rect x="120.81" y="367.10" width="14.07" height="1.4" fill="#ffffff" fill-opacity="0.061"/>
<rect x="120.81" y="369.80" width="14.07" height="1.4" fill="#303060" fill-opacity="0.055"/>
<rect x="120.81" y="372.50" width="14.07" height="1.4" fill="#ffffff" fill-opacity="0.045"/>
<rect x="120.81" y="380.60" width="14.07" height="1.4" fill="#ffffff" fill-opacity="0.047"/>
<rect x="120.81" y="388.70" width="14.07" height="1.4" fill="#ffffff" fill-opacity="0.026"/>
<rect x="120.81" y="391.40" width="14.07" height="1.4" fill="#ffffff" fill-opacity="0.068"/>
<rect x="120.81" y="396.80" width="14.07" height="1.4" fill="#ffffff" fill-opacity="0.047"/>
<rect x="120.81" y="399.50" width="14.07" height="1.4" fill="#ffffff" fill-opacity="0.029"/>
<rect x="120.81" y="410.30" width="14.07" height="1.4" fill="#303060" fill-opacity="0.062"/>
<rect x="120.81" y="413.00" width="14.07" height="1.4" fill="#303060" fill-opacity="0.052"/>
<rect x="120.81" y="415.70" width="14.07" height="1.4" fill="#303060" fill-opacity="0.060"/>
<rect x="120.81" y="418.40" width="14.07" height="1.4" fill="#ffffff" fill-opacity="0.034"/>
<rect x="120.81" y="421.10" width="14.07" height="1.4" fill="#303060" fill-opacity="0.034"/>
<rect x="120.81" y="423.80" width="14.07" height="1.4" fill="#303060" fill-opacity="0.047"/>
<rect x="120.81" y="426.50" width="14.07" height="1.4" fill="#303060" fill-opacity="0.058"/>
<rect x="120.81" y="429.20" width="14.07" height="1.4" fill="#ffffff" fill-opacity="0.048"/>
<rect x="120.81" y="431.90" width="14.07" height="1.4" fill="#ffffff" fill-opacity="0.052"/>
<rect x="120.81" y="437.30" width="14.07" height="1.4" fill="#303060" fill-opacity="0.031"/>
<rect x="120.81" y="440.00" width="14.07" height="1.4" fill="#303060" fill-opacity="0.036"/>
<rect x="120.81" y="442.70" width="14.07" height="1.4" fill="#303060" fill-opacity="0.029"/>
<rect x="120.81" y="448.10" width="14.07" height="1.4" fill="#303060" fill-opacity="0.048"/>
<rect x="120.81" y="453.50" width="14.07" height="1.4" fill="#303060" fill-opacity="0.033"/>
<rect x="120.81" y="456.20" width="14.07" height="1.4" fill="#ffffff" fill-opacity="0.065"/>
<rect x="120.81" y="458.90" width="14.07" height="1.4" fill="#ffffff" fill-opacity="0.066"/>
<rect x="120.81" y="464.30" width="14.07" height="1.4" fill="#303060" fill-opacity="0.036"/>
<rect x="120.81" y="467.00" width="14.07" height="1.4" fill="#ffffff" fill-opacity="0.065"/>
<rect x="120.81" y="469.70" width="14.07" height="1.4" fill="#303060" fill-opacity="0.027"/>
<rect x="120.81" y="475.10" width="14.07" height="1.4" fill="#303060" fill-opacity="0.070"/>
<rect x="120.81" y="485.90" width="14.07" height="1.4" fill="#303060" fill-opacity="0.042"/>
<rect x="120.81" y="491.30" width="14.07" height="1.4" fill="#303060" fill-opacity="0.069"/>
<rect x="120.81" y="494.00" width="14.07" height="1.4" fill="#303060" fill-opacity="0.033"/>
<rect x="120.81" y="496.70" width="14.07" height="1.4" fill="#303060" fill-opacity="0.057"/>
<rect x="120.81" y="502.10" width="14.07" height="1.4" fill="#303060" fill-opacity="0.064"/>
<rect x="120.81" y="504.80" width="14.07" height="1.4" fill="#303060" fill-opacity="0.067"/>
<rect x="120.81" y="507.50" width="14.07" height="1.4" fill="#303060" fill-opacity="0.027"/>
<rect x="120.81" y="510.20" width="14.07" height="1.4" fill="#303060" fill-opacity="0.037"/>
<rect x="120.81" y="518.30" width="14.07" height="1.4" fill="#ffffff" fill-opacity="0.035"/>
<rect x="120.81" y="523.70" width="14.07" height="1.4" fill="#ffffff" fill-opacity="0.030"/>
<rect x="120.81" y="526.40" width="14.07" height="1.4" fill="#ffffff" fill-opacity="0.053"/>
<rect x="120.81" y="534.50" width="14.07" height="1.4" fill="#ffffff" fill-opacity="0.068"/>
<rect x="120.81" y="537.20" width="14.07" height="1.4" fill="#303060" fill-opacity="0.049"/>
<rect x="120.81" y="539.90" width="14.07" height="1.4" fill="#ffffff" fill-opacity="0.031"/>
<rect x="120.81" y="545.30" width="14.07" height="1.4" fill="#303060" fill-opacity="0.064"/>
<rect x="120.81" y="548.00" width="14.07" height="1.4" fill="#ffffff" fill-opacity="0.047"/>
<rect x="120.81" y="550.70" width="14.07" height="1.4" fill="#ffffff" fill-opacity="0.055"/>
<rect x="134.88" y="251.00" width="14.07" height="1.4" fill="#ffffff" fill-opacity="0.033"/>
<rect x="134.88" y="253.70" width="14.07" height="1.4" fill="#ffffff" fill-opacity="0.044"/>
<rect x="134.88" y="256.40" width="14.07" height="1.4" fill="#303060" fill-opacity="0.050"/>
<rect x="134.88" y="264.50" width="14.07" height="1.4" fill="#ffffff" fill-opacity="0.047"/>
<rect x="134.88" y="267.20" width="14.07" height="1.4" fill="#ffffff" fill-opacity="0.043"/>
<rect x="134.88" y="269.90" width="14.07" height="1.4" fill="#ffffff" fill-opacity="0.046"/>
<rect x="134.88" y="275.30" width="14.07" height="1.4" fill="#ffffff" fill-opacity="0.055"/>
<rect x="134.88" y="278.00" width="14.07" height="1.4" fill="#ffffff" fill-opacity="0.026"/>
<rect x="134.88" y="280.70" width="14.07" height="1.4" fill="#ffffff" fill-opacity="0.027"/>
<rect x="134.88" y="283.40" width="14.07" height="1.4" fill="#303060" fill-opacity="0.038"/>
<rect x="134.88" y="286.10" width="14.07" height="1.4" fill="#303060" fill-opacity="0.066"/>
<rect x="134.88" y="288.80" width="14.07" height="1.4" fill="#303060" fill-opacity="0.051"/>
<rect x="134.88" y="294.20" width="14.07" height="1.4" fill="#303060" fill-opacity="0.055"/>
<rect x="134.88" y="296.90" width="14.07" height="1.4" fill="#ffffff" fill-opacity="0.047"/>
<rect x="134.88" y="307.70" width="14.07" height="1.4" fill="#ffffff" fill-opacity="0.025"/>
<rect x="134.88" y="313.10" width="14.07" height="1.4" fill="#303060" fill-opacity="0.070"/>
<rect x="134.88" y="315.80" width="14.07" height="1.4" fill="#ffffff" fill-opacity="0.042"/>
<rect x="134.88" y="318.50" width="14.07" height="1.4" fill="#ffffff" fill-opacity="0.035"/>
<rect x="134.88" y="329.30" width="14.07" height="1.4" fill="#303060" fill-opacity="0.061"/>
<rect x="134.88" y="332.00" width="14.07" height="1.4" fill="#ffffff" fill-opacity="0.033"/>
<rect x="134.88" y="334.70" width="14.07" height="1.4" fill="#303060" fill-opacity="0.035"/>
<rect x="134.88" y="337.40" width="14.07" height="1.4" fill="#303060" fill-opacity="0.060"/>
<rect x="134.88" y="340.10" width="14.07" height="1.4" fill="#303060" fill-opacity="0.033"/>
<rect x="134.88" y="342.80" width="14.07" height="1.4" fill="#ffffff" fill-opacity="0.032"/>
<rect x="134.88" y="345.50" width="14.07" height="1.4" fill="#303060" fill-opacity="0.041"/>
<rect x="134.88" y="348.20" width="14.07" height="1.4" fill="#ffffff" fill-opacity="0.034"/>
<rect x="134.88" y="350.90" width="14.07" height="1.4" fill="#ffffff" fill-opacity="0.067"/>
<rect x="134.88" y="361.70" width="14.07" height="1.4" fill="#ffffff" fill-opacity="0.026"/>
<rect x="134.88" y="364.40" width="14.07" height="1.4" fill="#ffffff" fill-opacity="0.037"/>
<rect x="134.88" y="372.50" width="14.07" height="1.4" fill="#303060" fill-opacity="0.059"/>
<rect x="134.88" y="375.20" width="14.07" height="1.4" fill="#303060" fill-opacity="0.049"/>
<rect x="134.88" y="377.90" width="14.07" height="1.4" fill="#303060" fill-opacity="0.034"/>
<rect x="134.88" y="380.60" width="14.07" height="1.4" fill="#ffffff" fill-opacity="0.034"/>
<rect x="134.88" y="383.30" width="14.07" height="1.4" fill="#303060" fill-opacity="0.027"/>
<rect x="134.88" y="388.70" width="14.07" height="1.4" fill="#303060" fill-opacity="0.068"/>
<rect x="134.88" y="391.40" width="14.07" height="1.4" fill="#303060" fill-opacity="0.062"/>
<rect x="134.88" y="394.10" width="14.07" height="1.4" fill="#303060" fill-opacity="0.032"/>
<rect x="134.88" y="399.50" width="14.07" height="1.4" fill="#ffffff" fill-opacity="0.027"/>
<rect x="134.88" y="402.20" width="14.07" height="1.4" fill="#ffffff" fill-opacity="0.025"/>
<rect x="134.88" y="404.90" width="14.07" height="1.4" fill="#303060" fill-opacity="0.029"/>
<rect x="134.88" y="415.70" width="14.07" height="1.4" fill="#303060" fill-opacity="0.053"/>
<rect x="134.88" y="418.40" width="14.07" height="1.4" fill="#ffffff" fill-opacity="0.055"/>
<rect x="134.88" y="421.10" width="14.07" height="1.4" fill="#303060" fill-opacity="0.042"/>
<rect x="134.88" y="423.80" width="14.07" height="1.4" fill="#ffffff" fill-opacity="0.067"/>
<rect x="134.88" y="426.50" width="14.07" height="1.4" fill="#ffffff" fill-opacity="0.061"/>
<rect x="134.88" y="429.20" width="14.07" height="1.4" fill="#303060" fill-opacity="0.068"/>
<rect x="134.88" y="434.60" width="14.07" height="1.4" fill="#ffffff" fill-opacity="0.045"/>
<rect x="134.88" y="437.30" width="14.07" height="1.4" fill="#ffffff" fill-opacity="0.066"/>
<rect x="134.88" y="442.70" width="14.07" height="1.4" fill="#303060" fill-opacity="0.032"/>
<rect x="134.88" y="445.40" width="14.07" height="1.4" fill="#303060" fill-opacity="0.041"/>
<rect x="134.88" y="448.10" width="14.07" height="1.4" fill="#ffffff" fill-opacity="0.062"/>
<rect x="134.88" y="450.80" width="14.07" height="1.4" fill="#303060" fill-opacity="0.041"/>
<rect x="134.88" y="456.20" width="14.07" height="1.4" fill="#303060" fill-opacity="0.050"/>
<rect x="134.88" y="461.60" width="14.07" height="1.4" fill="#ffffff" fill-opacity="0.063"/>
<rect x="134.88" y="464.30" width="14.07" height="1.4" fill="#303060" fill-opacity="0.051"/>
<rect x="134.88" y="467.00" width="14.07" height="1.4" fill="#ffffff" fill-opacity="0.045"/>
<rect x="134.88" y="472.40" width="14.07" height="1.4" fill="#ffffff" fill-opacity="0.054"/>
<rect x="134.88" y="475.10" width="14.07" height="1.4" fill="#ffffff" fill-opacity="0.028"/>
<rect x="134.88" y="477.80" width="14.07" height="1.4" fill="#303060" fill-opacity="0.038"/>
<rect x="134.88" y="480.50" width="14.07" height="1.4" fill="#ffffff" fill-opacity="0.056"/>
<rect x="134.88" y="485.90" width="14.07" height="1.4" fill="#303060" fill-opacity="0.067"/>
<rect x="134.88" y="488.60" width="14.07" height="1.4" fill="#303060" fill-opacity="0.069"/>
<rect x="134.88" y="496.70" width="14.07" height="1.4" fill="#303060" fill-opacity="0.028"/>
<rect x="134.88" y="499.40" width="14.07" height="1.4" fill="#303060" fill-opacity="0.050"/>
<rect x="134.88" y="504.80" width="14.07" height="1.4" fill="#303060" fill-opacity="0.026"/>
<rect x="134.88" y="507.50" width="14.07" height="1.4" fill="#ffffff" fill-opacity="0.048"/>
<rect x="134.88" y="510.20" width="14.07" height="1.4" fill="#303060" fill-opacity="0.070"/>
<rect x="134.88" y="512.90" width="14.07" height="1.4" fill="#ffffff" fill-opacity="0.035"/>
<rect x="134.88" y="515.60" width="14.07" height="1.4" fill="#ffffff" fill-opacity="0.047"/>
<rect x="134.88" y="518.30" width="14.07" height="1.4" fill="#303060" fill-opacity="0.053"/>
<rect x="134.88" y="521.00" width="14.07" height="1.4" fill="#ffffff" fill-opacity="0.060"/>
<rect x="134.88" y="523.70" width="14.07" height="1.4" fill="#ffffff" fill-opacity="0.030"/>
<rect x="134.88" y="526.40" width="14.07" height="1.4" fill="#ffffff" fill-opacity="0.056"/>
<rect x="134.88" y="529.10" width="14.07" height="1.4" fill="#303060" fill-opacity="0.029"/>
<rect x="134.88" y="537.20" width="14.07" height="1.4" fill="#ffffff" fill-opacity="0.070"/>
<rect x="134.88" y="548.00" width="14.07" height="1.4" fill="#303060" fill-opacity="0.031"/>
<rect x="134.88" y="550.70" width="14.07" height="1.4" fill="#303060" fill-opacity="0.063"/>
<rect x="134.88" y="553.40" width="14.07" height="1.4" fill="#303060" fill-opacity="0.056"/>
<rect x="148.95" y="251.00" width="14.07" height="1.4" fill="#ffffff" fill-opacity="0.047"/>
<rect x="148.95" y="253.70" width="14.07" height="1.4" fill="#303060" fill-opacity="0.030"/>
<rect x="148.95" y="256.40" width="14.07" height="1.4" fill="#ffffff" fill-opacity="0.061"/>
<rect x="148.95" y="259.10" width="14.07" height="1.4" fill="#303060" fill-opacity="0.035"/>
<rect x="148.95" y="261.80" width="14.07" height="1.4" fill="#303060" fill-opacity="0.033"/>
<rect x="148.95" y="267.20" width="14.07" height="1.4" fill="#303060" fill-opacity="0.043"/>
<rect x="148.95" y="272.60" width="14.07" height="1.4" fill="#ffffff" fill-opacity="0.064"/>
<rect x="148.95" y="275.30" width="14.07" height="1.4" fill="#ffffff" fill-opacity="0.054"/>
<rect x="148.95" y="278.00" width="14.07" height="1.4" fill="#ffffff" fill-opacity="0.044"/>
<rect x="148.95" y="283.40" width="14.07" height="1.4" fill="#ffffff" fill-opacity="0.058"/>
<rect x="148.95" y="286.10" width="14.07" height="1.4" fill="#ffffff" fill-opacity="0.062"/>
<rect x="148.95" y="291.50" width="14.07" height="1.4" fill="#ffffff" fill-opacity="0.031"/>
<rect x="148.95" y="294.20" width="14.07" height="1.4" fill="#303060" fill-opacity="0.063"/>
<rect x="148.95" y="296.90" width="14.07" height="1.4" fill="#ffffff" fill-opacity="0.033"/>
<rect x="148.95" y="302.30" width="14.07" height="1.4" fill="#ffffff" fill-opacity="0.035"/>
<rect x="148.95" y="307.70" width="14.07" height="1.4" fill="#303060" fill-opacity="0.030"/>
<rect x="148.95" y="310.40" width="14.07" height="1.4" fill="#303060" fill-opacity="0.063"/>
<rect x="148.95" y="313.10" width="14.07" height="1.4" fill="#ffffff" fill-opacity="0.060"/>
<rect x="148.95" y="315.80" width="14.07" height="1.4" fill="#303060" fill-opacity="0.052"/>
<rect x="148.95" y="323.90" width="14.07" height="1.4" fill="#303060" fill-opacity="0.028"/>
<rect x="148.95" y="326.60" width="14.07" height="1.4" fill="#ffffff" fill-opacity="0.033"/>
<rect x="148.95" y="329.30" width="14.07" height="1.4" fill="#ffffff" fill-opacity="0.067"/>
<rect x="148.95" y="332.00" width="14.07" height="1.4" fill="#303060" fill-opacity="0.034"/>
<rect x="148.95" y="337.40" width="14.07" height="1.4" fill="#303060" fill-opacity="0.028"/>
<rect x="148.95" y="345.50" width="14.07" height="1.4" fill="#303060" fill-opacity="0.047"/>
<rect x="148.95" y="348.20" width="14.07" height="1.4" fill="#303060" fill-opacity="0.047"/>
<rect x="148.95" y="350.90" width="14.07" height="1.4" fill="#303060" fill-opacity="0.041"/>
<rect x="148.95" y="353.60" width="14.07" height="1.4" fill="#ffffff" fill-opacity="0.057"/>
<rect x="148.95" y="359.00" width="14.07" height="1.4" fill="#303060" fill-opacity="0.039"/>
<rect x="148.95" y="361.70" width="14.07" height="1.4" fill="#ffffff" fill-opacity="0.057"/>
<rect x="148.95" y="364.40" width="14.07" height="1.4" fill="#ffffff" fill-opacity="0.070"/>
<rect x="148.95" y="369.80" width="14.07" height="1.4" fill="#303060" fill-opacity="0.050"/>
<rect x="148.95" y="372.50" width="14.07" height="1.4" fill="#303060" fill-opacity="0.043"/>
<rect x="148.95" y="375.20" width="14.07" height="1.4" fill="#303060" fill-opacity="0.057"/>
<rect x="148.95" y="380.60" width="14.07" height="1.4" fill="#303060" fill-opacity="0.057"/>
<rect x="148.95" y="383.30" width="14.07" height="1.4" fill="#303060" fill-opacity="0.037"/>
<rect x="148.95" y="386.00" width="14.07" height="1.4" fill="#303060" fill-opacity="0.034"/>
<rect x="148.95" y="391.40" width="14.07" height="1.4" fill="#ffffff" fill-opacity="0.054"/>
<rect x="148.95" y="394.10" width="14.07" height="1.4" fill="#ffffff" fill-opacity="0.035"/>
<rect x="148.95" y="410.30" width="14.07" height="1.4" fill="#303060" fill-opacity="0.061"/>
<rect x="148.95" y="413.00" width="14.07" height="1.4" fill="#303060" fill-opacity="0.031"/>
<rect x="148.95" y="415.70" width="14.07" height="1.4" fill="#ffffff" fill-opacity="0.065"/>
<rect x="148.95" y="418.40" width="14.07" height="1.4" fill="#303060" fill-opacity="0.052"/>
<rect x="148.95" y="426.50" width="14.07" height="1.4" fill="#ffffff" fill-opacity="0.051"/>
<rect x="148.95" y="429.20" width="14.07" height="1.4" fill="#303060" fill-opacity="0.040"/>
<rect x="148.95" y="431.90" width="14.07" height="1.4" fill="#303060" fill-opacity="0.032"/>
<rect x="148.95" y="434.60" width="14.07" height="1.4" fill="#303060" fill-opacity="0.035"/>
<rect x="148.95" y="442.70" width="14.07" height="1.4" fill="#ffffff" fill-opacity="0.064"/>
<rect x="148.95" y="445.40" width="14.07" height="1.4" fill="#ffffff" fill-opacity="0.049"/>
<rect x="148.95" y="448.10" width="14.07" height="1.4" fill="#ffffff" fill-opacity="0.052"/>
<rect x="148.95" y="450.80" width="14.07" height="1.4" fill="#303060" fill-opacity="0.067"/>
<rect x="148.95" y="453.50" width="14.07" height="1.4" fill="#303060" fill-opacity="0.065"/>
<rect x="148.95" y="456.20" width="14.07" height="1.4" fill="#ffffff" fill-opacity="0.029"/>
<rect x="148.95" y="458.90" width="14.07" height="1.4" fill="#ffffff" fill-opacity="0.055"/>
<rect x="148.95" y="467.00" width="14.07" height="1.4" fill="#303060" fill-opacity="0.070"/>
<rect x="148.95" y="472.40" width="14.07" height="1.4" fill="#ffffff" fill-opacity="0.060"/>
<rect x="148.95" y="475.10" width="14.07" height="1.4" fill="#ffffff" fill-opacity="0.046"/>
<rect x="148.95" y="477.80" width="14.07" height="1.4" fill="#ffffff" fill-opacity="0.050"/>
<rect x="148.95" y="480.50" width="14.07" height="1.4" fill="#ffffff" fill-opacity="0.066"/>
<rect x="148.95" y="483.20" width="14.07" height="1.4" fill="#303060" fill-opacity="0.035"/>
<rect x="148.95" y="485.90" width="14.07" height="1.4" fill="#303060" fill-opacity="0.055"/>
<rect x="148.95" y="488.60" width="14.07" height="1.4" fill="#303060" fill-opacity="0.048"/>
<rect x="148.95" y="494.00" width="14.07" height="1.4" fill="#ffffff" fill-opacity="0.025"/>
<rect x="148.95" y="496.70" width="14.07" height="1.4" fill="#ffffff" fill-opacity="0.062"/>
<rect x="148.95" y="499.40" width="14.07" height="1.4" fill="#ffffff" fill-opacity="0.031"/>
<rect x="148.95" y="504.80" width="14.07" height="1.4" fill="#ffffff" fill-opacity="0.037"/>
<rect x="148.95" y="512.90" width="14.07" height="1.4" fill="#303060" fill-opacity="0.064"/>
<rect x="148.95" y="515.60" width="14.07" height="1.4" fill="#ffffff" fill-opacity="0.040"/>
<rect x="148.95" y="518.30" width="14.07" height="1.4" fill="#303060" fill-opacity="0.037"/>
<rect x="148.95" y="521.00" width="14.07" height="1.4" fill="#ffffff" fill-opacity="0.059"/>
<rect x="148.95" y="526.40" width="14.07" height="1.4" fill="#303060" fill-opacity="0.027"/>
<rect x="148.95" y="529.10" width="14.07" height="1.4" fill="#303060" fill-opacity="0.052"/>
<rect x="148.95" y="531.80" width="14.07" height="1.4" fill="#303060" fill-opacity="0.035"/>
<rect x="148.95" y="537.20" width="14.07" height="1.4" fill="#ffffff" fill-opacity="0.028"/>
<rect x="148.95" y="539.90" width="14.07" height="1.4" fill="#303060" fill-opacity="0.054"/>
<rect x="148.95" y="542.60" width="14.07" height="1.4" fill="#303060" fill-opacity="0.060"/>
<rect x="148.95" y="553.40" width="14.07" height="1.4" fill="#303060" fill-opacity="0.039"/>
<rect x="78.60" y="557.6" width="5.6" height="3.2" fill="#2a2a7c"/>
<rect x="79.40" y="561.4" width="4" height="1.6" fill="#666"/>
<rect x="85.10" y="557.6" width="5.6" height="3.2" fill="#2e2e86"/>
<rect x="85.90" y="561.4" width="4" height="1.6" fill="#666"/>
<rect x="91.60" y="557.6" width="5.6" height="3.2" fill="#34348e"/>
<rect x="92.40" y="561.4" width="4" height="1.6" fill="#666"/>
<rect x="98.10" y="557.6" width="5.6" height="3.2" fill="#48489e"/>
<rect x="98.90" y="561.4" width="4" height="1.6" fill="#666"/>
<rect x="104.60" y="557.6" width="5.6" height="3.2" fill="#6e6eb6"/>
<rect x="105.40" y="561.4" width="4" height="1.6" fill="#666"/>
<rect x="111.10" y="557.6" width="5.6" height="3.2" fill="#a4a4d2"/>
<rect x="111.90" y="561.4" width="4" height="1.6" fill="#666"/>
<rect x="117.60" y="557.6" width="5.6" height="3.2" fill="#eeeaf2"/>
<rect x="118.40" y="561.4" width="4" height="1.6" fill="#666"/>
<rect x="124.10" y="557.6" width="5.6" height="3.2" fill="#f4d6da"/>
<rect x="124.90" y="561.4" width="4" height="1.6" fill="#666"/>
<rect x="130.60" y="557.6" width="5.6" height="3.2" fill="#f0b2b8"/>
<rect x="131.40" y="561.4" width="4" height="1.6" fill="#666"/>
<rect x="137.10" y="557.6" width="5.6" height="3.2" fill="#ea8890"/>
<rect x="137.90" y="561.4" width="4" height="1.6" fill="#666"/>
<rect x="143.60" y="557.6" width="5.6" height="3.2" fill="#e4606c"/>
<rect x="144.40" y="561.4" width="4" height="1.6" fill="#666"/>
<rect x="150.10" y="557.6" width="5.6" height="3.2" fill="#d8404e"/>
<rect x="150.90" y="561.4" width="4" height="1.6" fill="#666"/>
<rect x="156.60" y="557.6" width="5.6" height="3.2" fill="#c8283a"/>
<rect x="157.40" y="561.4" width="4" height="1.6" fill="#666"/>
<rect x="84.2" y="557.6" width="1" height="3.2" fill="#2a2a7c"/>
<text transform="translate(198.89,204.50) scale(1.049,1.012)" font-size="18.5" font-weight="bold" fill="#111">D</text>
<rect x="232.1" y="209.5" width="201.20000000000002" height="1.5" fill="#111"/>
<rect x="232.1" y="209.5" width="1.4" height="129.89999999999998" fill="#111"/>
<line x1="257.86" y1="210.2" x2="257.86" y2="339.4" stroke="#a2a2a2" stroke-width="1.4"/>
<line x1="282.93" y1="210.2" x2="282.93" y2="339.4" stroke="#a2a2a2" stroke-width="1.4"/>
<line x1="307.99" y1="210.2" x2="307.99" y2="339.4" stroke="#a2a2a2" stroke-width="1.4"/>
<line x1="333.05" y1="210.2" x2="333.05" y2="339.4" stroke="#a2a2a2" stroke-width="1.4"/>
<line x1="358.11" y1="210.2" x2="358.11" y2="339.4" stroke="#a2a2a2" stroke-width="1.4"/>
<line x1="383.18" y1="210.2" x2="383.18" y2="339.4" stroke="#a2a2a2" stroke-width="1.4"/>
<line x1="408.24" y1="210.2" x2="408.24" y2="339.4" stroke="#a2a2a2" stroke-width="1.4"/>
<line x1="381.42" y1="218.27" x2="393.20" y2="218.27" stroke="#111" stroke-width="1.5"/>
<rect x="393.20" y="214.57" width="40.10" height="7.4" fill="url(#hbar)" rx="1"/>
<line x1="375.66" y1="234.42" x2="388.19" y2="234.42" stroke="#111" stroke-width="1.5"/>
<rect x="388.19" y="230.72" width="45.11" height="7.4" fill="url(#hbar)" rx="1"/>
<line x1="375.66" y1="250.57" x2="379.67" y2="250.57" stroke="#111" stroke-width="1.5"/>
<rect x="379.67" y="246.88" width="53.63" height="7.4" fill="url(#hbar)" rx="1"/>
<line x1="369.39" y1="266.72" x2="378.66" y2="266.72" stroke="#111" stroke-width="1.5"/>
<rect x="378.66" y="263.02" width="54.64" height="7.4" fill="url(#hbar)" rx="1"/>
<line x1="360.62" y1="282.88" x2="370.64" y2="282.88" stroke="#111" stroke-width="1.5"/>
<rect x="370.64" y="279.18" width="62.66" height="7.4" fill="url(#hbar)" rx="1"/>
<line x1="356.86" y1="299.02" x2="366.13" y2="299.02" stroke="#111" stroke-width="1.5"/>
<rect x="366.13" y="295.32" width="67.17" height="7.4" fill="url(#hbar)" rx="1"/>
<line x1="349.09" y1="315.17" x2="357.36" y2="315.17" stroke="#111" stroke-width="1.5"/>
<rect x="357.36" y="311.47" width="75.94" height="7.4" fill="url(#hbar)" rx="1"/>
<line x1="263.88" y1="331.32" x2="298.46" y2="331.32" stroke="#111" stroke-width="1.5"/>
<rect x="298.46" y="327.62" width="134.84" height="7.4" fill="url(#hbar)" rx="1"/>
<text transform="translate(442.56,223.50) scale(1.083,1.000)" font-size="12.5" font-style="italic" fill="#1a1a1a">Rag1</text>
<text transform="translate(442.55,239.40) scale(1.103,1.000)" font-size="12.5" font-style="italic" fill="#1a1a1a">Bcl11b</text>
<text transform="translate(442.74,254.90) scale(1.113,1.000)" font-size="12.5" font-style="italic" fill="#1a1a1a">Lat</text>
<text transform="translate(443.20,271.00) scale(1.071,1.000)" font-size="12.5" font-style="italic" fill="#1a1a1a">Gfi1</text>
<text transform="translate(442.96,286.90) scale(1.075,1.000)" font-size="12.5" font-style="italic" fill="#1a1a1a">Thy1</text>
<text transform="translate(441.96,303.30) scale(1.090,1.000)" font-size="12.5" font-style="italic" fill="#1a1a1a">Notch3</text>
<text transform="translate(442.39,320.00) scale(1.082,1.000)" font-size="12.5" font-style="italic" fill="#1a1a1a">Cd3e</text>
<text transform="translate(442.39,336.00) scale(1.079,1.000)" font-size="12.5" font-style="italic" fill="#1a1a1a">Cd3g</text>
<line x1="232.8" y1="339.4" x2="433.3" y2="339.4" stroke="#8c8c8c" stroke-width="1.3"/>
<line x1="433.3" y1="210.2" x2="433.3" y2="339.4" stroke="#8c8c8c" stroke-width="1.3"/>
<line x1="232.80" y1="339.4" x2="232.80" y2="341.59999999999997" stroke="#8c8c8c" stroke-width="1.2"/>
<line x1="257.86" y1="339.4" x2="257.86" y2="341.59999999999997" stroke="#8c8c8c" stroke-width="1.2"/>
<line x1="282.93" y1="339.4" x2="282.93" y2="341.59999999999997" stroke="#8c8c8c" stroke-width="1.2"/>
<line x1="307.99" y1="339.4" x2="307.99" y2="341.59999999999997" stroke="#8c8c8c" stroke-width="1.2"/>
<line x1="333.05" y1="339.4" x2="333.05" y2="341.59999999999997" stroke="#8c8c8c" stroke-width="1.2"/>
<line x1="358.11" y1="339.4" x2="358.11" y2="341.59999999999997" stroke="#8c8c8c" stroke-width="1.2"/>
<line x1="383.18" y1="339.4" x2="383.18" y2="341.59999999999997" stroke="#8c8c8c" stroke-width="1.2"/>
<line x1="408.24" y1="339.4" x2="408.24" y2="341.59999999999997" stroke="#8c8c8c" stroke-width="1.2"/>
<line x1="433.30" y1="339.4" x2="433.30" y2="341.59999999999997" stroke="#8c8c8c" stroke-width="1.2"/>
<line x1="430.8" y1="226.35" x2="433.3" y2="226.35" stroke="#8c8c8c" stroke-width="1.2"/>
<line x1="430.8" y1="242.50" x2="433.3" y2="242.50" stroke="#8c8c8c" stroke-width="1.2"/>
<line x1="430.8" y1="258.65" x2="433.3" y2="258.65" stroke="#8c8c8c" stroke-width="1.2"/>
<line x1="430.8" y1="274.80" x2="433.3" y2="274.80" stroke="#8c8c8c" stroke-width="1.2"/>
<line x1="430.8" y1="290.95" x2="433.3" y2="290.95" stroke="#8c8c8c" stroke-width="1.2"/>
<line x1="430.8" y1="307.10" x2="433.3" y2="307.10" stroke="#8c8c8c" stroke-width="1.2"/>
<line x1="430.8" y1="323.25" x2="433.3" y2="323.25" stroke="#8c8c8c" stroke-width="1.2"/>
<text transform="translate(229.12,353.90) scale(1.166,1.000)" font-size="11" fill="#1a1a1a">-8</text>
<text transform="translate(254.18,353.90) scale(1.166,1.000)" font-size="11" fill="#1a1a1a">-7</text>
<text transform="translate(279.24,353.90) scale(1.166,1.000)" font-size="11" fill="#1a1a1a">-6</text>
<text transform="translate(304.30,353.90) scale(1.166,1.000)" font-size="11" fill="#1a1a1a">-5</text>
<text transform="translate(329.38,353.90) scale(1.133,1.000)" font-size="11" fill="#1a1a1a">-4</text>
<text transform="translate(354.43,353.90) scale(1.166,1.000)" font-size="11" fill="#1a1a1a">-3</text>
<text transform="translate(379.49,353.90) scale(1.166,1.000)" font-size="11" fill="#1a1a1a">-2</text>
<text transform="translate(404.55,353.90) scale(1.166,1.000)" font-size="11" fill="#1a1a1a">-1</text>
<text transform="translate(432.09,353.90) scale(1.029,1.000)" font-size="11" fill="#1a1a1a">0</text>
<text transform="translate(227.25,372.30) scale(1.050,1.000)" font-size="13" fill="#1a1a1a">Relative Expression (</text>
<text transform="translate(357.29,372.30) scale(1.024,1.000)" font-size="13" font-style="italic" fill="#1a1a1a">E2A</text>
<text transform="translate(381.83,366.40) scale(0.941,1.000)" font-size="10" fill="#1a1a1a">-/-</text>
<text transform="translate(391.40,372.50) scale(1.343,1.000)" font-size="13" fill="#1a1a1a">/</text>
<text transform="translate(396.98,372.30) scale(1.045,1.000)" font-size="13" font-style="italic" fill="#1a1a1a">E2A</text>
<text transform="translate(422.99,367.00) scale(1.015,1.000)" font-size="10" fill="#1a1a1a">+/+</text>
<text transform="translate(438.52,372.60) scale(1.138,1.000)" font-size="13" fill="#1a1a1a">)</text>
<text transform="translate(198.83,385.50) scale(1.015,1.020)" font-size="18.5" font-weight="bold" fill="#111">E</text>
<rect x="260.1" y="394.7" width="174.7" height="1.3" fill="#111"/>
<rect x="433.5" y="394.7" width="1.3" height="131.00000000000006" fill="#111"/>
<line x1="284.93" y1="395.1" x2="284.93" y2="525.7" stroke="#505050" stroke-width="1"/>
<line x1="309.76" y1="395.1" x2="309.76" y2="525.7" stroke="#505050" stroke-width="1"/>
<line x1="334.59" y1="395.1" x2="334.59" y2="525.7" stroke="#505050" stroke-width="1"/>
<line x1="359.41" y1="395.1" x2="359.41" y2="525.7" stroke="#505050" stroke-width="1"/>
<line x1="384.24" y1="395.1" x2="384.24" y2="525.7" stroke="#505050" stroke-width="1"/>
<line x1="409.07" y1="395.1" x2="409.07" y2="525.7" stroke="#505050" stroke-width="1"/>
<line x1="396.16" y1="403.26" x2="420.49" y2="403.26" stroke="#111" stroke-width="1.5"/>
<rect x="260.10" y="399.56" width="136.06" height="7.4" fill="url(#hbar)" rx="1"/>
<line x1="395.17" y1="419.59" x2="414.53" y2="419.59" stroke="#111" stroke-width="1.5"/>
<rect x="260.10" y="415.89" width="135.07" height="7.4" fill="url(#hbar)" rx="1"/>
<line x1="376.79" y1="435.91" x2="394.67" y2="435.91" stroke="#111" stroke-width="1.5"/>
<rect x="260.10" y="432.21" width="116.69" height="7.4" fill="url(#hbar)" rx="1"/>
<line x1="376.79" y1="452.24" x2="413.04" y2="452.24" stroke="#111" stroke-width="1.5"/>
<rect x="260.10" y="448.54" width="116.69" height="7.4" fill="url(#hbar)" rx="1"/>
<line x1="376.30" y1="468.56" x2="391.69" y2="468.56" stroke="#111" stroke-width="1.5"/>
<rect x="260.10" y="464.86" width="116.20" height="7.4" fill="url(#hbar)" rx="1"/>
<line x1="367.86" y1="484.89" x2="384.74" y2="484.89" stroke="#111" stroke-width="1.5"/>
<rect x="260.10" y="481.19" width="107.76" height="7.4" fill="url(#hbar)" rx="1"/>
<line x1="364.88" y1="501.21" x2="381.26" y2="501.21" stroke="#111" stroke-width="1.5"/>
<rect x="260.10" y="497.51" width="104.78" height="7.4" fill="url(#hbar)" rx="1"/>
<line x1="354.95" y1="517.54" x2="363.88" y2="517.54" stroke="#111" stroke-width="1.5"/>
<rect x="260.10" y="513.84" width="94.85" height="7.4" fill="url(#hbar)" rx="1"/>
<text transform="translate(215.59,406.90) scale(1.083,1.000)" font-size="12.5" font-style="italic" fill="#1a1a1a">Gata3</text>
<text transform="translate(233.36,423.80) scale(1.081,1.000)" font-size="12.5" font-style="italic" fill="#1a1a1a">Id2</text>
<text transform="translate(210.86,440.00) scale(1.072,1.000)" font-size="12.5" font-style="italic" fill="#1a1a1a">Fcer1g</text>
<text transform="translate(216.79,456.20) scale(1.076,1.000)" font-size="12.5" font-style="italic" fill="#1a1a1a">Gzmb</text>
<text transform="translate(217.66,473.10) scale(1.085,1.000)" font-size="12.5" font-style="italic" fill="#1a1a1a">Fcgr3</text>
<text transform="translate(237.01,488.80) scale(1.184,1.000)" font-size="12.5" font-style="italic" fill="#1a1a1a">Il4</text>
<text transform="translate(212.66,505.60) scale(1.089,1.000)" font-size="12.5" font-style="italic" fill="#1a1a1a">Dap12</text>
<text transform="translate(231.90,521.20) scale(1.038,1.000)" font-size="12.5" font-style="italic" fill="#1a1a1a">Tox</text>
<line x1="260.1" y1="525.7" x2="433.9" y2="525.7" stroke="#8c8c8c" stroke-width="1.3"/>
<line x1="260.1" y1="395.1" x2="260.1" y2="525.7" stroke="#8c8c8c" stroke-width="1.3"/>
<line x1="260.10" y1="525.7" x2="260.10" y2="527.9000000000001" stroke="#8c8c8c" stroke-width="1.2"/>
<line x1="284.93" y1="525.7" x2="284.93" y2="527.9000000000001" stroke="#8c8c8c" stroke-width="1.2"/>
<line x1="309.76" y1="525.7" x2="309.76" y2="527.9000000000001" stroke="#8c8c8c" stroke-width="1.2"/>
<line x1="334.59" y1="525.7" x2="334.59" y2="527.9000000000001" stroke="#8c8c8c" stroke-width="1.2"/>
<line x1="359.41" y1="525.7" x2="359.41" y2="527.9000000000001" stroke="#8c8c8c" stroke-width="1.2"/>
<line x1="384.24" y1="525.7" x2="384.24" y2="527.9000000000001" stroke="#8c8c8c" stroke-width="1.2"/>
<line x1="409.07" y1="525.7" x2="409.07" y2="527.9000000000001" stroke="#8c8c8c" stroke-width="1.2"/>
<line x1="433.90" y1="525.7" x2="433.90" y2="527.9000000000001" stroke="#8c8c8c" stroke-width="1.2"/>
<line x1="257.3" y1="395.10" x2="260.1" y2="395.10" stroke="#8c8c8c" stroke-width="1.2"/>
<line x1="257.3" y1="411.43" x2="260.1" y2="411.43" stroke="#8c8c8c" stroke-width="1.2"/>
<line x1="257.3" y1="427.75" x2="260.1" y2="427.75" stroke="#8c8c8c" stroke-width="1.2"/>
<line x1="257.3" y1="444.08" x2="260.1" y2="444.08" stroke="#8c8c8c" stroke-width="1.2"/>
<line x1="257.3" y1="460.40" x2="260.1" y2="460.40" stroke="#8c8c8c" stroke-width="1.2"/>
<line x1="257.3" y1="476.73" x2="260.1" y2="476.73" stroke="#8c8c8c" stroke-width="1.2"/>
<line x1="257.3" y1="493.05" x2="260.1" y2="493.05" stroke="#8c8c8c" stroke-width="1.2"/>
<line x1="257.3" y1="509.38" x2="260.1" y2="509.38" stroke="#8c8c8c" stroke-width="1.2"/>
<line x1="257.3" y1="525.70" x2="260.1" y2="525.70" stroke="#8c8c8c" stroke-width="1.2"/>
<text transform="translate(258.03,540.30) scale(1.143,1.000)" font-size="11" fill="#1a1a1a">0</text>
<text transform="translate(278.77,540.30) scale(1.109,1.000)" font-size="11" fill="#1a1a1a">0.5</text>
<text transform="translate(308.29,540.30) scale(0.758,1.000)" font-size="11" fill="#1a1a1a">1</text>
<text transform="translate(328.91,540.30) scale(1.029,1.000)" font-size="11" fill="#1a1a1a">1.5</text>
<text transform="translate(357.31,540.30) scale(1.200,1.000)" font-size="11" fill="#1a1a1a">2</text>
<text transform="translate(378.09,540.30) scale(1.109,1.000)" font-size="11" fill="#1a1a1a">2.5</text>
<text transform="translate(407.00,540.30) scale(1.143,1.000)" font-size="11" fill="#1a1a1a">3</text>
<text transform="translate(427.75,540.30) scale(1.109,1.000)" font-size="11" fill="#1a1a1a">3.5</text>
<text transform="translate(227.25,556.20) scale(1.050,1.000)" font-size="13" fill="#1a1a1a">Relative Expression (</text>
<text transform="translate(357.29,556.20) scale(1.024,1.000)" font-size="13" font-style="italic" fill="#1a1a1a">E2A</text>
<text transform="translate(381.83,550.30) scale(0.941,1.000)" font-size="10" fill="#1a1a1a">-/-</text>
<text transform="translate(391.40,556.40) scale(1.343,1.000)" font-size="13" fill="#1a1a1a">/</text>
<text transform="translate(396.98,556.20) scale(1.045,1.000)" font-size="13" font-style="italic" fill="#1a1a1a">E2A</text>
<text transform="translate(422.99,550.90) scale(1.015,1.000)" font-size="10" fill="#1a1a1a">+/+</text>
<text transform="translate(438.52,556.50) scale(1.138,1.000)" font-size="13" fill="#1a1a1a">)</text>
</svg></body></html>
